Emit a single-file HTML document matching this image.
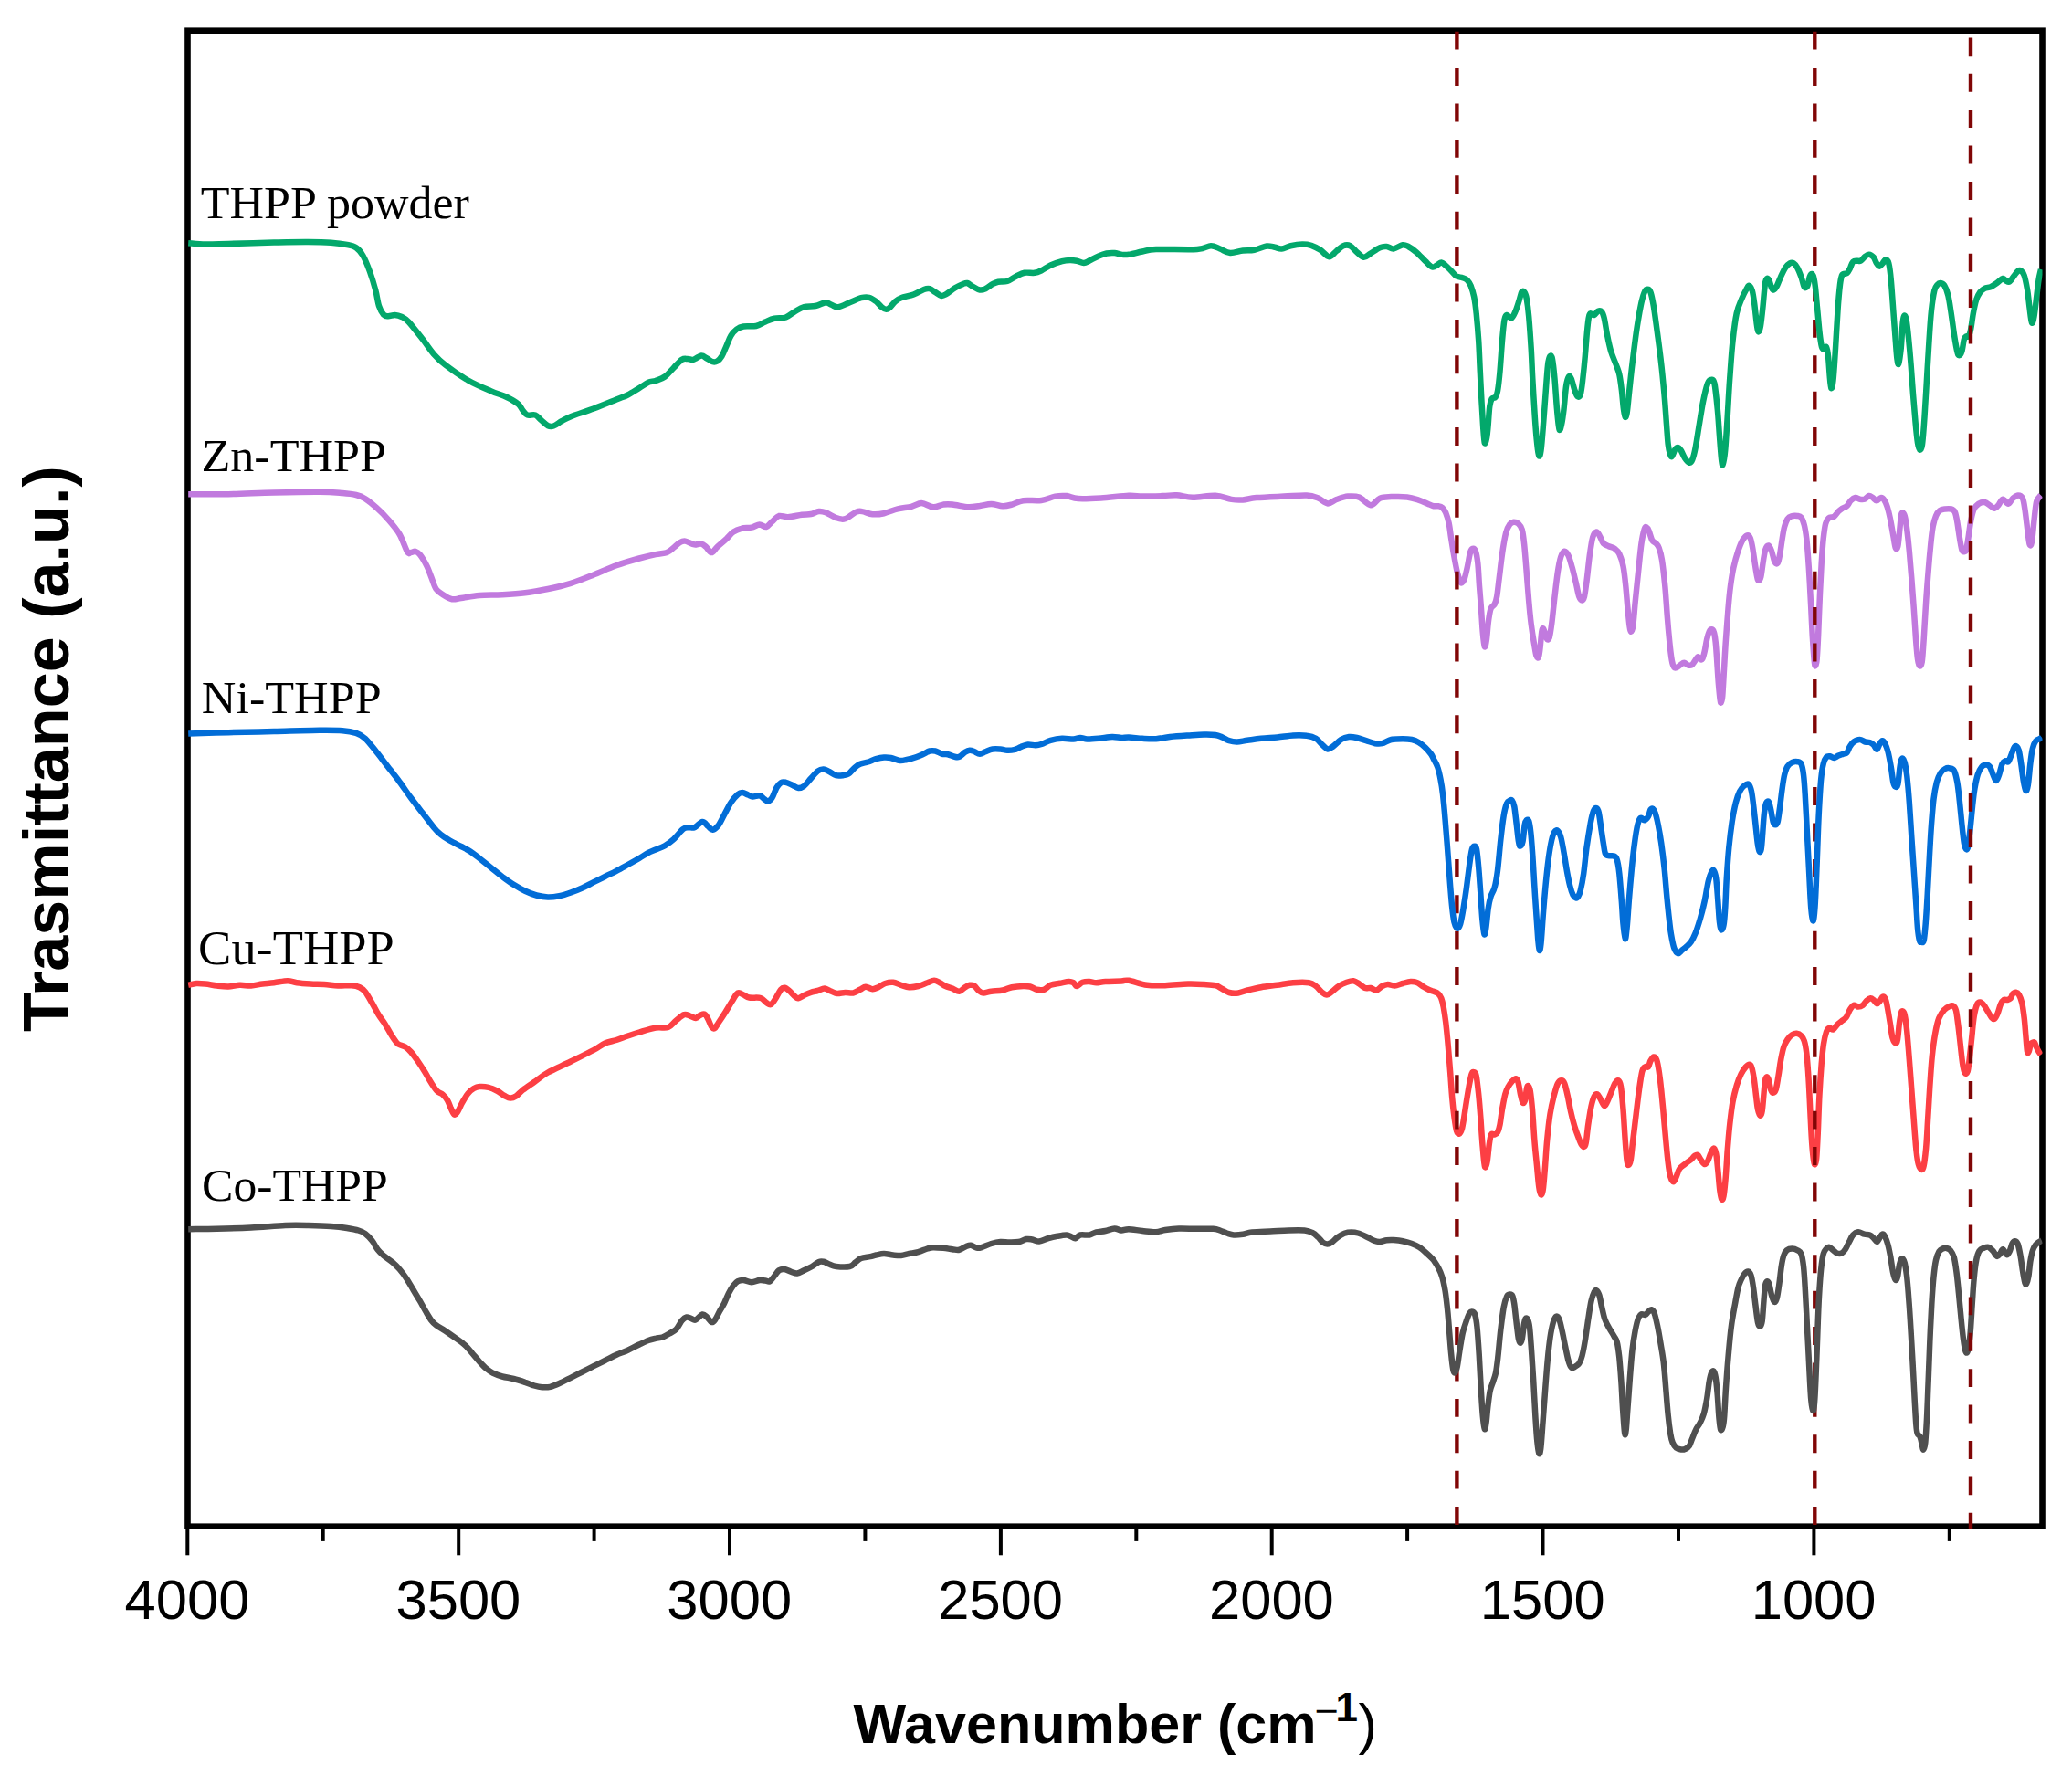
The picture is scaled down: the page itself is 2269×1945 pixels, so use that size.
<!DOCTYPE html>
<html><head><meta charset="utf-8"><title>FTIR spectra</title>
<style>
html,body{margin:0;padding:0;background:#fff;}
body{width:2269px;height:1945px;overflow:hidden;}
svg{display:block;}
.tick{font-family:"Liberation Sans",Arial,sans-serif;font-size:61.5px;fill:#000;text-anchor:middle;}
.lab{font-family:"Liberation Serif","Times New Roman",serif;fill:#000;}
.axl{font-family:"Liberation Sans",Arial,sans-serif;font-weight:bold;fill:#000;}
.curve{fill:none;stroke-width:6.5;stroke-linejoin:round;stroke-linecap:butt;}
.dash{fill:none;stroke:#800606;stroke-width:4.4;stroke-dasharray:19.9 19.5;}
</style></head><body>
<svg width="2269" height="1945" viewBox="0 0 2269 1945">
<rect x="0" y="0" width="2269" height="1945" fill="#ffffff"/>
<clipPath id="cp"><rect x="205.5" y="33.7" width="2031" height="1637.6"/></clipPath>
<rect x="205.5" y="33.7" width="2031" height="1638" fill="none" stroke="#000" stroke-width="6.6"/>
<g clip-path="url(#cp)">
<path class="curve" stroke="#FC3F44" d="M206.2 1078.8C207.7 1078.5 211.9 1077.2 215.0 1077.0C218.1 1076.8 221.2 1077.1 225.0 1077.5C228.8 1077.9 233.3 1079.0 237.5 1079.5C241.7 1080.0 245.8 1080.6 250.0 1080.5C254.2 1080.4 258.3 1079.0 262.5 1078.8C266.7 1078.6 270.8 1079.7 275.0 1079.5C279.2 1079.3 283.3 1078.0 287.5 1077.5C291.7 1077.0 295.4 1076.8 300.0 1076.2C304.6 1075.7 310.8 1074.2 315.0 1074.2C319.2 1074.2 320.8 1075.7 325.0 1076.2C329.2 1076.8 335.0 1077.2 340.0 1077.5C345.0 1077.8 350.0 1077.7 355.0 1078.0C360.0 1078.3 365.0 1079.3 370.0 1079.5C375.0 1079.7 381.0 1078.9 385.0 1079.2C389.0 1079.5 391.3 1080.0 393.8 1081.2C396.3 1082.4 397.7 1083.3 400.0 1086.2C402.3 1089.1 405.1 1094.4 407.5 1098.5C409.9 1102.6 412.1 1107.3 414.4 1111.0C416.6 1114.7 418.7 1116.9 421.0 1120.5C423.3 1124.1 426.0 1129.2 428.0 1132.5C430.0 1135.8 431.6 1138.2 433.0 1140.0C434.4 1141.8 434.4 1142.4 436.2 1143.5C438.0 1144.6 441.5 1145.1 443.8 1146.5C446.1 1147.9 447.7 1149.4 450.0 1152.0C452.3 1154.6 455.0 1158.4 457.5 1162.0C460.0 1165.6 462.5 1169.5 465.0 1173.5C467.5 1177.5 470.2 1182.6 472.5 1186.2C474.8 1189.8 476.7 1192.9 478.8 1195.0C480.9 1197.1 483.1 1197.1 485.0 1198.8C486.9 1200.5 488.5 1202.5 490.0 1205.0C491.5 1207.5 492.6 1211.2 493.8 1213.8C495.1 1216.4 496.3 1219.9 497.5 1220.5C498.7 1221.1 499.8 1219.7 501.2 1217.5C502.6 1215.3 504.3 1210.8 506.2 1207.5C508.1 1204.2 510.4 1200.1 512.5 1197.5C514.6 1194.9 516.7 1193.2 518.8 1192.0C520.9 1190.8 522.3 1190.2 525.0 1190.0C527.7 1189.8 531.7 1190.0 535.0 1190.8C538.3 1191.6 542.1 1193.5 545.0 1195.0C547.9 1196.5 550.2 1198.8 552.5 1200.0C554.8 1201.2 556.7 1202.4 558.8 1202.5C560.9 1202.6 562.7 1202.0 565.0 1200.5C567.3 1199.0 569.2 1196.4 572.5 1193.8C575.8 1191.2 580.4 1188.2 585.0 1185.0C589.6 1181.8 593.3 1178.2 600.0 1174.5C606.7 1170.8 616.7 1166.6 625.0 1162.5C633.3 1158.4 643.8 1153.3 650.0 1150.0C656.2 1146.7 658.3 1144.3 662.5 1142.5C666.7 1140.7 670.8 1140.3 675.0 1139.0C679.2 1137.7 683.3 1135.9 687.5 1134.5C691.7 1133.1 694.9 1132.0 700.0 1130.5C705.1 1129.0 712.7 1126.5 718.0 1125.6C723.3 1124.7 728.0 1126.3 731.8 1125.0C735.5 1123.7 737.6 1119.8 740.5 1117.5C743.4 1115.2 746.7 1112.0 749.2 1111.2C751.7 1110.4 753.4 1111.9 755.5 1112.5C757.6 1113.1 759.9 1115.1 761.8 1115.0C763.7 1114.9 765.1 1112.5 766.8 1111.8C768.5 1111.1 770.3 1110.1 771.8 1110.8C773.2 1111.5 774.3 1113.9 775.5 1116.2C776.7 1118.5 778.0 1122.8 779.2 1124.5C780.4 1126.2 781.2 1127.0 782.5 1126.2C783.8 1125.5 784.8 1122.9 786.8 1120.0C788.8 1117.1 791.7 1112.8 794.2 1108.8C796.7 1104.8 799.5 1099.8 801.8 1096.2C804.1 1092.7 805.9 1088.6 808.0 1087.5C810.1 1086.4 812.1 1088.7 814.2 1089.5C816.3 1090.3 817.4 1091.9 820.5 1092.5C823.6 1093.1 829.9 1092.1 833.0 1093.0C836.1 1093.9 837.3 1096.8 839.2 1098.0C841.1 1099.2 842.5 1100.7 844.2 1100.0C845.9 1099.3 847.4 1096.5 849.2 1093.8C851.0 1091.1 853.3 1085.8 855.0 1083.8C856.7 1081.8 857.7 1081.6 859.2 1081.8C860.7 1082.0 862.3 1083.4 864.2 1085.0C866.1 1086.6 868.8 1089.8 870.5 1091.2C872.2 1092.6 872.5 1093.4 874.2 1093.2C875.9 1093.0 878.2 1091.1 880.5 1090.0C882.8 1088.9 885.5 1087.6 888.0 1086.8C890.5 1086.0 893.0 1085.7 895.5 1085.0C898.0 1084.3 900.5 1082.4 903.0 1082.5C905.5 1082.6 908.2 1084.9 910.5 1085.8C912.8 1086.7 914.3 1087.8 916.8 1088.0C919.3 1088.2 922.6 1087.1 925.5 1087.0C928.4 1086.9 931.5 1088.0 934.2 1087.5C936.9 1087.0 939.5 1084.9 941.8 1083.8C944.1 1082.7 945.7 1080.9 948.0 1080.8C950.3 1080.7 953.2 1083.1 955.5 1083.2C957.8 1083.3 959.5 1082.2 961.8 1081.2C964.1 1080.2 966.5 1077.9 969.2 1077.0C971.9 1076.1 975.1 1075.5 978.0 1075.8C980.9 1076.1 983.9 1077.9 986.8 1078.8C989.7 1079.7 992.4 1081.0 995.5 1081.2C998.6 1081.4 1002.2 1080.8 1005.5 1080.0C1008.8 1079.2 1012.6 1077.2 1015.5 1076.2C1018.4 1075.2 1020.7 1073.8 1023.0 1073.8C1025.3 1073.8 1027.1 1075.2 1029.2 1076.2C1031.3 1077.2 1033.2 1079.0 1035.5 1080.0C1037.8 1081.0 1040.5 1081.5 1043.0 1082.5C1045.5 1083.5 1048.2 1086.0 1050.5 1085.8C1052.8 1085.6 1054.9 1082.4 1056.8 1081.2C1058.7 1080.0 1060.1 1079.1 1061.8 1078.8C1063.5 1078.5 1065.1 1078.5 1066.8 1079.5C1068.5 1080.5 1070.1 1083.7 1071.8 1085.0C1073.5 1086.3 1074.5 1087.4 1076.8 1087.5C1079.1 1087.6 1082.0 1086.3 1085.5 1085.8C1089.0 1085.3 1094.2 1085.3 1098.0 1084.5C1101.8 1083.7 1104.2 1082.0 1108.0 1081.2C1111.8 1080.5 1117.2 1080.1 1120.5 1080.0C1123.8 1079.9 1125.5 1079.9 1128.0 1080.5C1130.5 1081.1 1133.0 1083.2 1135.5 1083.8C1138.0 1084.3 1140.5 1084.6 1143.0 1083.8C1145.5 1083.0 1147.6 1080.0 1150.5 1078.8C1153.4 1077.6 1157.2 1077.4 1160.5 1076.8C1163.8 1076.2 1168.0 1075.1 1170.5 1075.0C1173.0 1074.9 1174.0 1075.4 1175.5 1076.2C1177.0 1077.0 1177.5 1080.1 1179.2 1080.0C1180.9 1079.9 1183.2 1076.6 1185.5 1075.8C1187.8 1075.0 1190.5 1074.9 1193.0 1075.0C1195.5 1075.1 1197.6 1076.2 1200.5 1076.2C1203.4 1076.2 1205.9 1075.3 1210.5 1075.0C1215.1 1074.7 1223.8 1074.7 1228.0 1074.5C1232.2 1074.3 1231.3 1073.1 1236.0 1073.8C1240.7 1074.5 1249.3 1077.9 1256.0 1078.8C1262.7 1079.7 1268.5 1079.4 1276.0 1079.2C1283.5 1079.0 1293.9 1077.7 1301.0 1077.5C1308.1 1077.3 1313.5 1077.7 1318.5 1078.0C1323.5 1078.3 1327.7 1078.4 1331.0 1079.2C1334.3 1080.0 1336.0 1081.7 1338.5 1083.0C1341.0 1084.3 1343.1 1086.2 1346.0 1087.0C1348.9 1087.8 1352.7 1087.9 1356.0 1087.5C1359.3 1087.1 1361.8 1085.5 1366.0 1084.5C1370.2 1083.5 1375.6 1082.2 1381.0 1081.2C1386.4 1080.2 1392.7 1079.6 1398.5 1078.8C1404.3 1078.0 1410.2 1076.6 1416.0 1076.2C1421.8 1075.8 1429.3 1075.6 1433.5 1076.2C1437.7 1076.8 1438.7 1078.3 1441.0 1080.0C1443.3 1081.7 1445.2 1084.6 1447.2 1086.2C1449.2 1087.8 1451.1 1089.5 1453.0 1089.5C1454.9 1089.5 1456.3 1087.8 1458.5 1086.2C1460.7 1084.6 1463.3 1081.7 1466.0 1080.0C1468.7 1078.3 1472.1 1076.8 1474.8 1075.8C1477.5 1074.8 1479.9 1073.9 1482.2 1074.2C1484.5 1074.5 1486.4 1076.2 1488.5 1077.5C1490.6 1078.8 1492.7 1081.2 1494.8 1082.0C1496.9 1082.8 1498.9 1081.6 1501.0 1082.0C1503.1 1082.4 1505.1 1084.8 1507.2 1084.5C1509.3 1084.2 1511.4 1081.1 1513.5 1080.0C1515.6 1078.9 1517.5 1078.1 1519.8 1078.0C1522.1 1077.9 1524.5 1079.7 1527.2 1079.5C1529.9 1079.3 1533.1 1077.8 1536.0 1077.0C1538.9 1076.2 1542.1 1075.1 1544.8 1075.0C1547.5 1074.9 1549.9 1075.3 1552.2 1076.2C1554.5 1077.1 1556.2 1079.1 1558.5 1080.5C1560.8 1081.9 1564.1 1083.6 1566.0 1084.5C1567.9 1085.4 1568.5 1085.2 1570.0 1085.8C1571.5 1086.4 1573.6 1087.0 1575.0 1088.3C1576.4 1089.5 1577.3 1090.8 1578.3 1093.3C1579.3 1095.8 1580.0 1098.8 1580.8 1103.3C1581.6 1107.8 1582.5 1113.9 1583.3 1120.0C1584.0 1126.1 1584.7 1133.3 1585.3 1140.0C1585.9 1146.7 1586.4 1153.0 1587.0 1160.0C1587.6 1167.0 1588.2 1174.5 1588.7 1181.7C1589.2 1188.9 1589.7 1196.4 1590.3 1203.3C1590.9 1210.2 1591.7 1217.5 1592.5 1223.3C1593.3 1229.1 1594.1 1235.2 1595.0 1238.3C1595.9 1241.4 1597.0 1242.0 1598.0 1241.7C1599.0 1241.4 1599.9 1239.8 1600.8 1236.7C1601.7 1233.6 1602.5 1228.3 1603.3 1223.3C1604.1 1218.3 1604.8 1212.8 1605.8 1206.7C1606.8 1200.6 1608.2 1191.9 1609.2 1186.7C1610.2 1181.5 1610.9 1177.9 1611.7 1175.8C1612.5 1173.7 1613.4 1173.8 1614.2 1174.2C1615.0 1174.6 1615.9 1174.3 1616.7 1178.3C1617.5 1182.3 1618.4 1190.8 1619.2 1198.3C1620.0 1205.8 1620.6 1214.4 1621.3 1223.3C1622.0 1232.2 1622.6 1243.4 1623.3 1251.7C1624.0 1260.0 1624.7 1268.9 1625.3 1273.3C1625.9 1277.7 1626.1 1278.6 1626.7 1278.3C1627.3 1278.0 1628.0 1275.9 1628.7 1271.7C1629.4 1267.5 1630.1 1258.2 1630.8 1253.3C1631.5 1248.4 1632.0 1244.3 1633.0 1242.5C1634.0 1240.7 1635.5 1242.9 1636.7 1242.5C1637.9 1242.1 1639.0 1241.8 1640.0 1240.0C1641.0 1238.2 1641.7 1235.9 1642.5 1231.7C1643.3 1227.5 1644.0 1220.6 1645.0 1215.0C1646.0 1209.4 1647.2 1202.5 1648.3 1198.3C1649.4 1194.1 1650.5 1192.3 1651.7 1190.0C1653.0 1187.7 1654.4 1185.7 1655.8 1184.2C1657.2 1182.8 1658.9 1181.2 1660.0 1181.3C1661.1 1181.4 1661.7 1182.2 1662.5 1185.0C1663.3 1187.8 1664.2 1194.5 1665.0 1198.3C1665.8 1202.0 1666.7 1206.4 1667.5 1207.5C1668.3 1208.6 1669.2 1207.6 1670.0 1205.0C1670.8 1202.4 1671.4 1194.3 1672.0 1191.7C1672.6 1189.1 1673.1 1188.7 1673.7 1189.2C1674.3 1189.8 1675.1 1190.7 1675.8 1195.0C1676.5 1199.3 1677.2 1206.1 1678.0 1215.0C1678.8 1223.9 1679.5 1238.0 1680.3 1248.3C1681.1 1258.6 1682.2 1268.1 1683.0 1276.7C1683.8 1285.3 1684.5 1294.7 1685.3 1300.0C1686.0 1305.3 1686.8 1307.8 1687.5 1308.3C1688.2 1308.8 1689.0 1307.7 1689.7 1303.3C1690.4 1298.9 1691.0 1290.9 1691.7 1281.7C1692.5 1272.5 1693.2 1258.6 1694.2 1248.3C1695.2 1238.0 1696.2 1228.0 1697.5 1220.0C1698.8 1212.0 1700.3 1205.5 1701.7 1200.0C1703.1 1194.5 1704.4 1189.5 1705.8 1186.7C1707.2 1183.9 1708.8 1183.3 1710.0 1183.3C1711.2 1183.3 1712.2 1183.9 1713.3 1186.7C1714.4 1189.5 1715.6 1195.0 1716.7 1200.0C1717.8 1205.0 1718.8 1211.2 1720.0 1216.7C1721.2 1222.2 1722.8 1228.6 1724.2 1233.3C1725.6 1238.0 1727.0 1241.7 1728.3 1245.0C1729.5 1248.3 1730.6 1251.5 1731.7 1253.3C1732.8 1255.1 1733.9 1256.1 1734.7 1255.8C1735.5 1255.5 1736.0 1255.7 1736.7 1251.7C1737.5 1247.7 1738.2 1238.4 1739.2 1231.7C1740.2 1225.0 1741.4 1216.9 1742.5 1211.7C1743.6 1206.5 1744.7 1203.0 1745.8 1200.8C1746.9 1198.6 1748.1 1197.9 1749.2 1198.3C1750.3 1198.7 1751.2 1201.2 1752.5 1203.3C1753.8 1205.4 1755.5 1210.2 1756.7 1210.8C1758.0 1211.4 1758.8 1209.0 1760.0 1206.7C1761.2 1204.4 1762.8 1200.0 1764.2 1196.7C1765.6 1193.4 1767.0 1188.9 1768.3 1186.7C1769.6 1184.5 1771.1 1182.8 1772.2 1183.3C1773.3 1183.8 1774.1 1184.7 1775.0 1190.0C1775.9 1195.3 1776.7 1205.3 1777.5 1215.0C1778.3 1224.7 1779.0 1238.8 1779.7 1248.3C1780.4 1257.8 1781.0 1267.1 1781.7 1271.7C1782.4 1276.3 1783.0 1276.1 1783.7 1275.8C1784.4 1275.5 1785.0 1274.6 1785.8 1270.0C1786.6 1265.4 1787.3 1256.6 1788.3 1248.3C1789.3 1240.0 1790.6 1229.2 1791.7 1220.0C1792.8 1210.8 1793.9 1201.1 1795.0 1193.3C1796.1 1185.5 1797.2 1177.5 1798.3 1173.3C1799.4 1169.1 1800.6 1169.1 1801.7 1168.3C1802.8 1167.5 1804.0 1169.4 1805.0 1168.3C1806.0 1167.2 1806.5 1163.5 1807.5 1161.7C1808.5 1159.9 1809.7 1157.7 1810.8 1157.5C1811.9 1157.3 1813.2 1158.2 1814.2 1160.8C1815.2 1163.4 1815.9 1167.9 1816.7 1173.3C1817.5 1178.7 1818.4 1185.5 1819.2 1193.3C1820.0 1201.1 1820.9 1210.8 1821.7 1220.0C1822.5 1229.2 1823.4 1239.4 1824.2 1248.3C1825.0 1257.2 1825.9 1266.6 1826.7 1273.3C1827.5 1280.0 1828.2 1284.8 1829.2 1288.3C1830.2 1291.8 1831.4 1294.2 1832.5 1294.2C1833.6 1294.2 1834.7 1290.7 1835.8 1288.3C1836.9 1285.9 1837.7 1282.2 1839.2 1280.0C1840.7 1277.8 1842.9 1276.7 1845.0 1275.0C1847.1 1273.3 1849.9 1271.5 1851.7 1270.0C1853.5 1268.5 1854.5 1266.6 1855.8 1265.8C1857.0 1265.0 1858.1 1264.3 1859.2 1265.0C1860.3 1265.7 1861.2 1268.3 1862.5 1270.0C1863.8 1271.7 1865.5 1274.7 1866.7 1275.0C1868.0 1275.3 1868.9 1273.7 1870.0 1271.7C1871.1 1269.8 1872.2 1265.7 1873.3 1263.3C1874.4 1260.9 1875.7 1257.5 1876.7 1257.5C1877.7 1257.5 1878.4 1259.3 1879.2 1263.3C1880.0 1267.3 1880.6 1275.0 1881.3 1281.7C1882.0 1288.4 1882.6 1298.0 1883.3 1303.3C1884.0 1308.6 1884.6 1312.2 1885.3 1313.3C1886.0 1314.4 1886.8 1313.9 1887.5 1310.0C1888.2 1306.1 1889.0 1298.3 1889.7 1290.0C1890.4 1281.7 1891.0 1269.7 1891.7 1260.0C1892.5 1250.3 1893.2 1240.6 1894.2 1231.7C1895.2 1222.8 1896.2 1213.8 1897.5 1206.7C1898.8 1199.6 1900.2 1194.1 1901.7 1189.0C1903.2 1183.9 1905.0 1179.4 1906.7 1176.0C1908.4 1172.6 1910.2 1170.2 1911.7 1168.5C1913.2 1166.8 1914.7 1165.7 1915.8 1165.8C1916.9 1165.9 1917.5 1166.5 1918.3 1169.2C1919.1 1171.9 1920.0 1176.6 1920.8 1181.7C1921.6 1186.8 1922.3 1194.5 1923.0 1200.0C1923.7 1205.5 1924.2 1211.4 1925.0 1215.0C1925.8 1218.6 1926.7 1221.4 1927.5 1221.7C1928.3 1222.0 1929.1 1220.3 1929.7 1216.7C1930.3 1213.1 1930.8 1205.6 1931.3 1200.0C1931.8 1194.4 1932.4 1186.8 1933.0 1183.3C1933.6 1179.8 1934.3 1179.2 1935.0 1179.2C1935.7 1179.2 1936.3 1181.0 1937.0 1183.3C1937.7 1185.6 1938.4 1191.1 1939.2 1193.3C1940.0 1195.5 1940.8 1196.7 1941.7 1196.7C1942.6 1196.7 1943.7 1196.4 1944.7 1193.3C1945.7 1190.2 1946.6 1183.6 1947.5 1178.3C1948.4 1173.0 1949.0 1167.0 1950.0 1161.7C1951.0 1156.4 1952.0 1150.6 1953.3 1146.7C1954.5 1142.8 1956.0 1140.5 1957.5 1138.3C1959.0 1136.1 1960.8 1134.4 1962.5 1133.3C1964.2 1132.2 1965.8 1131.5 1967.5 1131.7C1969.2 1131.9 1971.1 1132.8 1972.5 1134.2C1973.9 1135.6 1974.8 1136.8 1975.8 1140.0C1976.8 1143.2 1977.6 1147.8 1978.3 1153.3C1979.0 1158.8 1979.4 1165.0 1980.0 1173.3C1980.6 1181.6 1981.2 1192.7 1981.7 1203.3C1982.2 1213.9 1982.8 1227.0 1983.3 1236.7C1983.8 1246.4 1984.4 1255.3 1985.0 1261.7C1985.6 1268.1 1986.3 1273.9 1987.0 1275.0C1987.7 1276.1 1988.6 1274.1 1989.2 1268.3C1989.8 1262.5 1990.2 1251.7 1990.8 1240.0C1991.3 1228.3 1991.8 1210.8 1992.5 1198.3C1993.2 1185.8 1994.0 1174.2 1994.7 1165.0C1995.5 1155.8 1996.1 1149.1 1997.0 1143.3C1997.9 1137.5 1999.0 1132.9 2000.0 1130.0C2001.0 1127.1 2002.0 1126.2 2003.3 1125.8C2004.5 1125.4 2006.1 1128.0 2007.5 1127.5C2008.9 1127.0 2010.2 1124.0 2011.7 1122.5C2013.2 1121.0 2015.0 1119.7 2016.7 1118.3C2018.4 1116.9 2020.2 1116.3 2021.7 1114.2C2023.2 1112.1 2024.4 1108.0 2025.8 1105.8C2027.2 1103.6 2028.5 1101.3 2030.0 1100.8C2031.5 1100.2 2033.3 1102.5 2035.0 1102.5C2036.7 1102.5 2038.5 1101.9 2040.0 1100.8C2041.5 1099.7 2042.8 1097.0 2044.2 1095.8C2045.6 1094.5 2047.1 1093.4 2048.3 1093.3C2049.6 1093.2 2050.5 1094.0 2051.7 1095.0C2052.9 1096.0 2054.2 1098.9 2055.3 1099.2C2056.4 1099.5 2057.2 1098.0 2058.3 1096.7C2059.4 1095.5 2060.6 1092.0 2061.7 1091.7C2062.8 1091.4 2064.0 1092.5 2065.0 1095.0C2066.0 1097.5 2066.7 1102.2 2067.5 1106.7C2068.3 1111.2 2069.2 1116.7 2070.0 1121.7C2070.8 1126.7 2071.5 1133.2 2072.5 1136.7C2073.5 1140.2 2074.9 1142.2 2075.8 1142.5C2076.7 1142.8 2077.3 1142.0 2078.0 1138.3C2078.7 1134.5 2079.3 1124.8 2080.0 1120.0C2080.7 1115.2 2081.4 1111.3 2082.0 1109.2C2082.6 1107.1 2083.1 1107.1 2083.7 1107.5C2084.3 1107.9 2085.0 1108.0 2085.8 1111.7C2086.6 1115.5 2087.5 1122.0 2088.3 1130.0C2089.1 1138.0 2090.0 1149.5 2090.8 1160.0C2091.6 1170.5 2092.5 1182.2 2093.3 1193.3C2094.1 1204.4 2095.0 1215.9 2095.8 1226.7C2096.6 1237.5 2097.5 1250.2 2098.3 1258.3C2099.1 1266.3 2099.8 1271.2 2100.8 1275.0C2101.8 1278.8 2103.2 1280.5 2104.2 1280.8C2105.2 1281.1 2105.9 1280.7 2106.7 1276.7C2107.5 1272.7 2108.4 1265.6 2109.2 1256.7C2110.0 1247.8 2110.6 1234.4 2111.3 1223.3C2112.0 1212.2 2112.6 1201.1 2113.3 1190.0C2114.1 1178.9 2114.8 1166.4 2115.8 1156.7C2116.8 1147.0 2117.9 1138.7 2119.2 1131.7C2120.4 1124.8 2121.6 1119.3 2123.3 1115.0C2125.0 1110.7 2127.2 1108.0 2129.2 1105.8C2131.1 1103.6 2133.3 1102.7 2135.0 1102.0C2136.7 1101.3 2138.0 1100.9 2139.2 1101.7C2140.4 1102.5 2141.2 1103.4 2142.0 1106.7C2142.8 1110.0 2143.4 1115.6 2144.2 1121.7C2145.0 1127.8 2145.9 1136.1 2146.7 1143.3C2147.5 1150.5 2148.4 1159.7 2149.2 1165.0C2150.0 1170.3 2150.8 1173.6 2151.7 1175.0C2152.6 1176.4 2153.9 1175.8 2154.7 1173.3C2155.5 1170.8 2155.9 1166.1 2156.7 1160.0C2157.4 1153.9 2158.4 1144.5 2159.2 1136.7C2160.0 1128.9 2160.7 1119.4 2161.7 1113.3C2162.7 1107.2 2163.9 1102.6 2165.0 1100.0C2166.1 1097.4 2167.1 1097.4 2168.3 1097.5C2169.6 1097.6 2171.1 1099.1 2172.5 1100.8C2173.9 1102.5 2175.3 1105.3 2176.7 1107.5C2178.1 1109.7 2179.6 1112.8 2180.8 1114.2C2182.1 1115.6 2183.1 1116.5 2184.2 1115.8C2185.3 1115.1 2186.4 1112.6 2187.5 1110.0C2188.6 1107.4 2189.7 1102.5 2190.8 1100.0C2191.9 1097.5 2192.9 1095.8 2194.2 1095.0C2195.4 1094.2 2197.1 1095.3 2198.3 1095.0C2199.6 1094.7 2200.7 1094.4 2201.7 1093.3C2202.7 1092.2 2203.2 1089.4 2204.2 1088.3C2205.2 1087.2 2206.4 1086.5 2207.5 1086.7C2208.6 1086.9 2209.7 1087.3 2210.8 1089.2C2211.9 1091.1 2213.2 1094.0 2214.2 1098.3C2215.2 1102.6 2216.0 1109.2 2216.7 1115.0C2217.4 1120.8 2217.8 1127.2 2218.3 1133.3C2218.9 1139.4 2219.4 1148.8 2220.0 1151.7C2220.6 1154.6 2221.4 1152.2 2222.0 1150.8C2222.6 1149.4 2223.1 1144.8 2223.7 1143.3C2224.3 1141.8 2225.1 1142.0 2225.8 1141.7C2226.5 1141.4 2227.3 1140.9 2228.0 1141.7C2228.7 1142.5 2229.2 1145.0 2230.0 1146.7C2230.8 1148.4 2231.7 1150.3 2232.5 1151.7C2233.3 1153.1 2234.6 1154.5 2235.0 1155.0"/>
<path class="curve" stroke="#C17ADE" d="M206.2 541.2C213.5 541.2 234.4 541.5 250.0 541.2C265.6 540.9 283.3 539.9 300.0 539.5C316.7 539.1 337.5 538.7 350.0 538.8C362.5 538.9 368.3 539.5 375.0 540.0C381.7 540.5 385.8 541.0 390.0 542.0C394.2 543.0 396.2 543.8 400.0 546.2C403.8 548.6 408.3 552.4 412.5 556.2C416.7 560.0 420.8 564.0 425.0 568.8C429.2 573.6 434.0 579.0 437.5 585.0C441.0 591.0 444.1 601.2 446.2 604.5C448.3 607.8 448.5 605.1 450.0 605.0C451.5 604.9 453.3 603.4 455.0 603.8C456.7 604.2 457.9 604.8 460.0 607.5C462.1 610.2 465.4 615.8 467.5 620.0C469.6 624.2 470.8 628.3 472.5 632.5C474.2 636.7 475.4 641.9 477.5 645.0C479.6 648.1 482.1 649.3 485.0 651.2C487.9 653.1 491.7 655.6 495.0 656.2C498.3 656.8 500.0 655.7 505.0 655.0C510.0 654.3 517.5 652.6 525.0 652.0C532.5 651.4 541.7 651.7 550.0 651.2C558.3 650.7 566.7 650.2 575.0 649.2C583.3 648.2 591.7 646.7 600.0 645.0C608.3 643.3 616.7 641.4 625.0 638.8C633.3 636.2 641.7 632.7 650.0 629.4C658.3 626.1 666.7 622.1 675.0 619.2C683.3 616.2 692.8 613.5 700.0 611.5C707.2 609.5 712.9 608.2 718.0 607.1C723.1 606.0 727.2 606.2 730.5 604.9C733.8 603.7 735.7 601.3 738.0 599.5C740.3 597.8 742.1 595.4 744.2 594.3C746.3 593.1 747.8 592.2 750.5 592.6C753.2 593.0 757.6 595.9 760.5 596.4C763.4 596.9 765.9 595.2 768.0 595.6C770.1 596.0 771.1 597.2 773.0 598.8C774.9 600.4 777.1 605.1 779.2 605.1C781.3 605.1 782.8 601.3 785.5 598.8C788.2 596.3 792.6 592.8 795.5 590.1C798.4 587.4 800.3 584.5 803.0 582.6C805.7 580.7 808.5 579.6 811.8 578.8C815.1 577.9 819.7 578.3 823.0 577.6C826.3 576.9 829.1 574.6 831.8 574.5C834.5 574.5 836.9 577.6 839.2 577.0C841.5 576.5 843.2 573.3 845.5 571.3C847.8 569.3 850.1 565.9 853.0 565.0C855.9 564.2 858.8 566.5 863.0 566.3C867.2 566.1 873.8 564.3 878.0 563.7C882.2 563.2 884.9 563.6 888.0 563.0C891.1 562.4 894.1 560.3 896.8 560.0C899.5 559.7 901.1 560.1 904.2 561.3C907.3 562.5 912.2 565.9 915.5 567.1C918.8 568.4 921.7 568.9 924.2 568.6C926.7 568.3 928.2 566.7 930.5 565.4C932.8 564.0 935.7 561.4 938.0 560.5C940.3 559.6 941.3 559.6 944.2 560.1C947.1 560.5 951.5 562.9 955.5 563.2C959.5 563.6 963.4 563.2 968.0 562.2C972.6 561.2 978.0 558.6 983.0 557.4C988.0 556.2 993.6 555.9 998.0 554.8C1002.4 553.8 1005.2 551.0 1009.2 551.1C1013.2 551.2 1017.8 555.0 1021.8 555.3C1025.8 555.6 1029.5 553.1 1033.0 552.6C1036.5 552.2 1038.4 552.1 1043.0 552.6C1047.6 553.0 1055.5 555.0 1060.5 555.3C1065.5 555.5 1068.8 554.5 1073.0 554.0C1077.2 553.4 1081.3 551.9 1085.5 551.9C1089.7 551.9 1094.2 554.1 1098.0 554.2C1101.8 554.3 1104.2 553.6 1108.0 552.6C1111.8 551.6 1115.1 549.0 1120.5 548.2C1125.9 547.5 1134.7 548.7 1140.5 548.0C1146.3 547.2 1150.9 544.5 1155.5 543.6C1160.1 542.8 1163.8 542.7 1168.0 543.1C1172.2 543.6 1174.2 545.7 1180.5 546.1C1186.8 546.4 1196.2 546.0 1205.5 545.4C1214.8 544.9 1228.4 543.0 1236.0 542.7C1243.6 542.4 1244.8 543.5 1251.0 543.6C1257.2 543.6 1267.2 543.3 1273.5 543.1C1279.8 542.9 1283.1 542.0 1288.5 542.3C1293.9 542.5 1298.9 544.6 1306.0 544.7C1313.1 544.8 1323.9 542.4 1331.0 542.7C1338.1 543.1 1343.5 546.2 1348.5 546.9C1353.5 547.7 1356.4 547.8 1361.0 547.4C1365.6 547.1 1368.5 545.7 1376.0 545.1C1383.5 544.4 1396.8 544.0 1406.0 543.6C1415.2 543.2 1424.8 542.2 1431.0 542.5C1437.2 542.8 1439.7 544.1 1443.5 545.6C1447.3 547.1 1450.7 551.2 1454.0 551.4C1457.3 551.6 1459.8 548.3 1463.5 547.0C1467.2 545.8 1471.8 544.0 1476.0 543.6C1480.2 543.2 1484.3 543.0 1488.5 544.6C1492.7 546.2 1497.2 553.0 1501.0 553.2C1504.8 553.4 1507.2 547.2 1511.0 545.7C1514.8 544.2 1518.5 544.4 1523.5 544.1C1528.5 543.9 1536.0 543.8 1541.0 544.4C1546.0 545.0 1549.8 546.4 1553.5 547.6C1557.2 548.8 1560.8 550.6 1563.5 551.7C1566.2 552.8 1568.1 553.8 1570.0 554.2C1571.9 554.6 1573.5 553.9 1575.0 554.2C1576.5 554.5 1577.8 554.5 1579.2 555.8C1580.6 557.0 1582.0 558.8 1583.3 561.7C1584.5 564.6 1585.7 568.6 1586.7 573.3C1587.7 578.0 1588.2 583.9 1589.2 590.0C1590.2 596.1 1591.4 603.9 1592.5 610.0C1593.6 616.1 1594.7 622.2 1595.8 626.7C1596.9 631.2 1598.4 634.8 1599.2 636.7C1600.0 638.6 1600.1 638.6 1600.8 638.3C1601.5 638.0 1602.3 637.8 1603.3 635.0C1604.3 632.2 1605.6 626.7 1606.7 621.7C1607.8 616.7 1609.0 608.5 1610.0 605.0C1611.0 601.5 1611.5 601.1 1612.5 600.8C1613.5 600.5 1614.8 600.6 1615.8 603.3C1616.8 605.9 1617.6 610.3 1618.3 616.7C1619.0 623.1 1619.4 633.4 1620.0 641.7C1620.6 650.0 1621.4 658.4 1622.0 666.7C1622.6 675.0 1623.1 684.8 1623.7 691.7C1624.3 698.6 1625.1 706.9 1625.8 708.3C1626.5 709.7 1627.3 704.7 1628.0 700.0C1628.7 695.3 1629.2 685.5 1630.0 680.0C1630.8 674.5 1631.4 669.8 1632.5 666.7C1633.6 663.7 1635.6 663.9 1636.7 661.7C1637.8 659.5 1638.4 658.0 1639.2 653.3C1640.0 648.6 1640.7 641.1 1641.7 633.3C1642.7 625.5 1643.8 615.0 1645.0 606.7C1646.2 598.4 1647.8 588.7 1649.2 583.3C1650.6 577.9 1651.9 576.1 1653.3 574.2C1654.7 572.3 1656.0 571.9 1657.5 571.7C1659.0 571.6 1661.0 571.9 1662.5 573.3C1664.0 574.7 1665.6 576.1 1666.7 580.0C1667.8 583.9 1668.4 588.9 1669.2 596.7C1670.0 604.5 1670.9 616.4 1671.7 626.7C1672.5 637.0 1673.4 648.9 1674.2 658.3C1675.0 667.7 1675.7 675.5 1676.7 683.3C1677.7 691.1 1679.0 699.2 1680.0 705.0C1681.0 710.8 1681.7 715.9 1682.5 718.3C1683.3 720.7 1684.3 720.9 1685.0 719.2C1685.7 717.5 1686.2 712.9 1686.7 708.3C1687.2 703.7 1687.8 695.0 1688.3 691.7C1688.8 688.4 1689.3 687.8 1690.0 688.3C1690.7 688.8 1691.8 693.0 1692.5 695.0C1693.2 697.0 1693.5 699.5 1694.2 700.0C1694.9 700.5 1695.9 701.1 1696.7 698.3C1697.5 695.5 1698.2 690.8 1699.2 683.3C1700.2 675.8 1701.4 662.7 1702.5 653.3C1703.6 643.9 1704.7 633.9 1705.8 626.7C1706.9 619.5 1708.0 613.8 1709.2 610.0C1710.5 606.2 1711.9 604.0 1713.3 603.7C1714.7 603.4 1716.1 605.3 1717.5 608.3C1718.9 611.3 1720.3 616.7 1721.7 621.7C1723.1 626.7 1724.5 633.0 1725.8 638.3C1727.0 643.6 1728.1 650.1 1729.2 653.3C1730.3 656.5 1731.5 657.5 1732.5 657.5C1733.5 657.5 1734.2 656.8 1735.0 653.3C1735.8 649.8 1736.5 644.2 1737.5 636.7C1738.5 629.2 1739.7 616.4 1740.8 608.3C1741.9 600.2 1743.0 592.6 1744.2 588.3C1745.5 584.0 1747.0 582.8 1748.3 582.5C1749.5 582.2 1750.5 584.6 1751.7 586.7C1753.0 588.8 1754.1 593.1 1755.8 595.0C1757.5 596.9 1759.6 597.3 1761.7 598.3C1763.8 599.3 1766.4 599.4 1768.3 600.8C1770.2 602.2 1771.8 603.5 1773.3 606.7C1774.8 609.9 1776.3 614.2 1777.5 620.0C1778.7 625.8 1779.5 633.9 1780.3 641.7C1781.1 649.5 1781.8 659.8 1782.5 666.7C1783.2 673.6 1783.7 679.1 1784.2 683.3C1784.8 687.5 1785.1 691.4 1785.8 691.7C1786.5 692.0 1787.5 690.6 1788.3 685.0C1789.1 679.4 1789.8 668.3 1790.8 658.3C1791.8 648.3 1793.1 635.5 1794.2 625.0C1795.3 614.5 1796.4 602.6 1797.5 595.0C1798.6 587.4 1799.9 582.1 1800.8 579.2C1801.7 576.3 1802.2 577.1 1803.0 577.5C1803.8 577.9 1804.8 579.3 1805.8 581.7C1806.8 584.1 1808.0 589.5 1809.2 591.7C1810.5 593.9 1812.0 593.6 1813.3 595.0C1814.5 596.4 1815.6 597.0 1816.7 600.0C1817.8 603.0 1818.9 606.3 1820.0 613.3C1821.1 620.2 1822.3 631.4 1823.3 641.7C1824.3 652.0 1825.0 664.7 1825.8 675.0C1826.6 685.3 1827.5 695.2 1828.3 703.3C1829.1 711.3 1830.0 718.7 1830.8 723.3C1831.6 727.9 1832.3 729.5 1833.3 730.8C1834.3 732.0 1835.6 731.2 1836.7 730.8C1837.8 730.4 1838.8 729.1 1840.0 728.3C1841.2 727.5 1842.8 725.8 1844.2 725.8C1845.6 725.8 1846.9 727.9 1848.3 728.3C1849.7 728.7 1851.2 729.0 1852.5 728.3C1853.8 727.6 1854.7 725.7 1855.8 724.2C1856.9 722.7 1858.2 719.6 1859.2 719.2C1860.2 718.8 1860.9 721.3 1861.7 721.7C1862.5 722.1 1863.4 723.1 1864.2 721.7C1865.0 720.3 1865.9 716.9 1866.7 713.3C1867.5 709.7 1868.4 703.6 1869.2 700.0C1870.0 696.4 1870.9 693.5 1871.7 691.7C1872.5 689.9 1873.4 689.2 1874.2 689.2C1875.0 689.2 1876.0 689.4 1876.7 691.7C1877.5 694.1 1878.1 697.8 1878.7 703.3C1879.3 708.8 1879.8 717.2 1880.3 725.0C1880.8 732.8 1881.4 743.0 1882.0 750.0C1882.6 757.0 1883.2 763.5 1883.7 766.7C1884.2 769.9 1884.3 770.0 1884.7 769.2C1885.1 768.4 1885.8 767.7 1886.3 761.7C1886.8 755.7 1887.4 743.6 1888.0 733.3C1888.6 723.0 1889.2 711.1 1890.0 700.0C1890.8 688.9 1891.7 676.4 1892.5 666.7C1893.3 657.0 1894.0 649.2 1895.0 641.7C1896.0 634.2 1896.9 628.1 1898.3 621.7C1899.7 615.3 1901.6 608.5 1903.3 603.5C1905.0 598.5 1906.6 594.4 1908.3 591.5C1910.0 588.6 1911.9 586.7 1913.3 586.3C1914.7 585.9 1915.7 586.9 1916.7 589.2C1917.7 591.5 1918.4 595.4 1919.2 600.0C1920.0 604.6 1920.9 611.4 1921.7 616.7C1922.5 622.0 1923.5 628.5 1924.2 631.7C1924.9 634.9 1925.1 635.8 1925.8 635.8C1926.5 635.8 1927.5 635.2 1928.3 631.7C1929.1 628.2 1930.0 620.0 1930.8 615.0C1931.6 610.0 1932.3 604.6 1933.3 601.7C1934.3 598.8 1935.6 597.2 1936.7 597.5C1937.8 597.8 1938.9 600.4 1940.0 603.3C1941.1 606.2 1942.2 612.8 1943.3 615.0C1944.4 617.2 1945.7 618.1 1946.7 616.7C1947.7 615.3 1948.4 611.2 1949.2 606.7C1950.0 602.2 1950.9 595.0 1951.7 590.0C1952.5 585.0 1953.2 580.3 1954.2 576.7C1955.2 573.1 1956.2 570.2 1957.5 568.3C1958.8 566.4 1959.9 565.8 1961.7 565.3C1963.5 564.8 1966.5 564.8 1968.3 565.0C1970.1 565.2 1971.2 565.0 1972.5 566.7C1973.8 568.4 1974.8 571.1 1975.8 575.0C1976.8 578.9 1977.6 584.2 1978.3 590.0C1979.0 595.8 1979.4 602.2 1980.0 610.0C1980.6 617.8 1981.2 627.2 1981.7 636.7C1982.2 646.2 1982.8 656.2 1983.3 666.7C1983.8 677.2 1984.4 690.6 1985.0 700.0C1985.6 709.4 1986.2 718.4 1986.7 723.3C1987.2 728.2 1987.5 729.5 1988.0 729.2C1988.5 728.9 1989.2 728.0 1989.7 721.7C1990.2 715.5 1990.8 703.7 1991.3 691.7C1991.8 679.8 1992.4 662.5 1993.0 650.0C1993.6 637.5 1994.1 626.7 1994.7 616.7C1995.3 606.7 1996.0 597.2 1996.7 590.0C1997.5 582.8 1998.2 577.0 1999.2 573.3C2000.2 569.5 2001.0 568.8 2002.5 567.5C2004.0 566.2 2006.5 567.0 2008.3 565.8C2010.1 564.5 2011.8 561.5 2013.3 560.0C2014.8 558.5 2016.0 557.7 2017.5 556.7C2019.0 555.7 2021.0 555.6 2022.5 554.2C2024.0 552.8 2025.2 549.8 2026.7 548.3C2028.2 546.8 2030.0 545.3 2031.7 545.0C2033.4 544.7 2035.0 546.4 2036.7 546.7C2038.4 547.0 2040.0 547.3 2041.7 546.7C2043.4 546.1 2045.2 543.3 2046.7 543.0C2048.2 542.7 2049.4 544.1 2050.8 545.0C2052.2 545.9 2053.5 548.3 2055.0 548.3C2056.5 548.3 2058.6 545.1 2060.0 545.0C2061.4 544.9 2062.2 545.8 2063.3 547.5C2064.4 549.2 2065.6 551.5 2066.7 555.0C2067.8 558.5 2068.9 563.0 2070.0 568.3C2071.1 573.6 2072.3 581.4 2073.3 586.7C2074.3 592.0 2075.0 598.1 2075.8 600.0C2076.6 601.9 2077.6 601.6 2078.3 598.3C2079.1 595.0 2079.7 585.7 2080.3 580.0C2080.9 574.3 2081.4 567.2 2082.0 564.2C2082.6 561.2 2083.1 561.6 2083.7 561.7C2084.3 561.8 2085.0 562.0 2085.8 565.0C2086.6 568.0 2087.5 573.6 2088.3 580.0C2089.1 586.4 2090.0 594.4 2090.8 603.3C2091.6 612.2 2092.5 622.7 2093.3 633.3C2094.1 643.9 2095.0 655.6 2095.8 666.7C2096.6 677.8 2097.3 690.8 2098.0 700.0C2098.7 709.2 2099.3 716.8 2100.0 721.7C2100.7 726.6 2101.2 728.7 2102.0 729.2C2102.8 729.8 2103.9 729.9 2104.7 725.0C2105.5 720.1 2105.9 711.1 2106.7 700.0C2107.4 688.9 2108.4 670.8 2109.2 658.3C2110.0 645.8 2110.9 635.3 2111.7 625.0C2112.5 614.7 2113.4 604.8 2114.2 596.7C2115.0 588.7 2115.7 582.0 2116.7 576.7C2117.7 571.4 2118.8 567.9 2120.0 565.0C2121.2 562.1 2122.5 560.5 2124.2 559.2C2125.9 558.0 2127.9 557.8 2130.0 557.5C2132.1 557.2 2134.9 557.0 2136.7 557.5C2138.5 558.0 2139.7 558.4 2140.8 560.8C2141.9 563.2 2142.5 567.1 2143.3 571.7C2144.1 576.3 2145.0 583.3 2145.8 588.3C2146.6 593.3 2147.5 599.1 2148.3 601.7C2149.1 604.4 2150.0 604.2 2150.8 604.2C2151.6 604.2 2152.5 604.6 2153.3 601.7C2154.1 598.8 2155.0 592.0 2155.8 586.7C2156.6 581.4 2157.3 574.9 2158.3 570.0C2159.3 565.1 2160.3 560.5 2161.7 557.5C2163.1 554.5 2164.8 553.0 2166.7 551.7C2168.6 550.5 2171.1 549.6 2173.3 550.0C2175.5 550.4 2178.2 553.1 2180.0 554.2C2181.8 555.3 2182.8 556.9 2184.2 556.7C2185.6 556.6 2186.8 555.0 2188.3 553.3C2189.8 551.6 2191.5 547.0 2193.3 546.7C2195.1 546.4 2197.4 551.9 2199.2 551.7C2201.0 551.6 2202.4 547.3 2204.2 545.8C2206.0 544.3 2208.2 542.5 2210.0 542.5C2211.8 542.5 2213.8 543.2 2215.0 545.8C2216.2 548.4 2216.7 552.9 2217.5 558.3C2218.3 563.7 2219.2 572.0 2220.0 578.3C2220.8 584.5 2221.7 593.3 2222.5 595.8C2223.3 598.3 2224.2 597.6 2225.0 593.3C2225.8 589.0 2226.7 577.2 2227.5 570.0C2228.3 562.8 2229.0 554.3 2230.0 550.0C2231.0 545.7 2232.5 545.5 2233.3 544.2C2234.1 543.0 2234.7 542.8 2235.0 542.5"/>
<line class="dash" x1="1595.4" y1="34.7" x2="1595.4" y2="1672"/>
<line class="dash" x1="1987.3" y1="34.7" x2="1987.3" y2="1672"/>
<path class="curve" stroke="#4F4F4F" d="M206.2 1346.2C211.4 1346.1 226.0 1346.1 237.5 1345.8C249.0 1345.5 262.5 1345.1 275.0 1344.5C287.5 1343.9 302.1 1342.4 312.5 1342.0C322.9 1341.6 329.2 1341.8 337.5 1342.0C345.8 1342.2 355.4 1342.5 362.5 1343.0C369.6 1343.5 375.0 1344.2 380.0 1345.0C385.0 1345.8 389.2 1346.5 392.5 1347.5C395.8 1348.5 397.5 1349.3 400.0 1351.2C402.5 1353.1 405.2 1355.9 407.5 1358.8C409.8 1361.7 411.7 1366.1 413.8 1368.8C415.9 1371.5 417.3 1372.7 420.0 1375.0C422.7 1377.3 427.1 1380.0 430.0 1382.5C432.9 1385.0 435.0 1387.1 437.5 1390.0C440.0 1392.9 442.5 1396.2 445.0 1400.0C447.5 1403.8 450.0 1408.3 452.5 1412.5C455.0 1416.7 457.7 1421.0 460.0 1425.0C462.3 1429.0 464.1 1432.7 466.2 1436.2C468.3 1439.7 470.6 1443.7 472.5 1446.2C474.4 1448.7 475.0 1449.3 477.5 1451.2C480.0 1453.1 483.8 1455.0 487.5 1457.5C491.2 1460.0 496.2 1463.5 500.0 1466.2C503.8 1468.9 507.1 1471.1 510.0 1473.8C512.9 1476.5 515.0 1479.6 517.5 1482.5C520.0 1485.4 522.5 1488.5 525.0 1491.2C527.5 1493.9 530.0 1496.7 532.5 1498.8C535.0 1500.9 537.1 1502.3 540.0 1503.8C542.9 1505.2 546.2 1506.5 550.0 1507.5C553.8 1508.5 558.3 1509.0 562.5 1510.0C566.7 1511.0 571.2 1512.5 575.0 1513.8C578.8 1515.0 581.9 1516.6 585.0 1517.5C588.1 1518.4 590.9 1519.0 593.8 1519.2C596.7 1519.4 599.4 1519.5 602.5 1518.8C605.6 1518.1 608.8 1516.7 612.5 1515.0C616.2 1513.3 620.8 1510.9 625.0 1508.8C629.2 1506.7 633.3 1504.6 637.5 1502.5C641.7 1500.4 645.8 1498.3 650.0 1496.2C654.2 1494.1 658.3 1492.1 662.5 1490.0C666.7 1487.9 670.8 1485.7 675.0 1483.8C679.2 1481.9 683.3 1480.7 687.5 1478.8C691.7 1476.9 696.2 1474.3 700.0 1472.5C703.8 1470.7 707.0 1469.1 710.0 1468.0C713.0 1466.9 715.4 1466.4 718.0 1465.8C720.6 1465.2 723.0 1465.4 725.5 1464.5C728.0 1463.6 730.5 1462.0 733.0 1460.5C735.5 1459.0 738.2 1458.2 740.5 1455.8C742.8 1453.4 744.9 1448.4 746.8 1446.2C748.7 1444.0 750.1 1442.9 751.8 1442.5C753.5 1442.1 755.1 1443.3 756.8 1443.8C758.5 1444.3 759.7 1446.2 761.8 1445.5C763.9 1444.8 767.1 1440.0 769.2 1439.5C771.3 1439.0 772.5 1441.1 774.2 1442.5C775.9 1443.9 777.7 1447.5 779.2 1448.0C780.7 1448.5 781.5 1447.5 783.0 1445.5C784.5 1443.5 786.3 1439.2 788.0 1436.2C789.7 1433.2 791.3 1430.8 793.0 1427.5C794.7 1424.2 796.3 1419.5 798.0 1416.2C799.7 1413.0 801.3 1410.2 803.0 1408.0C804.7 1405.8 806.1 1404.2 808.0 1403.2C809.9 1402.2 811.7 1401.8 814.2 1402.0C816.7 1402.2 820.1 1404.2 823.0 1404.2C825.9 1404.2 829.3 1402.3 831.8 1402.0C834.3 1401.7 836.1 1402.3 838.0 1402.5C839.9 1402.7 841.3 1404.0 843.0 1403.2C844.7 1402.4 846.3 1399.5 848.0 1397.5C849.7 1395.5 851.1 1392.5 853.0 1391.2C854.9 1390.0 856.9 1389.7 859.2 1390.0C861.5 1390.3 864.5 1392.2 866.8 1393.0C869.1 1393.8 870.7 1394.8 873.0 1394.5C875.3 1394.2 877.8 1392.5 880.5 1391.2C883.2 1390.0 886.5 1388.5 889.2 1387.0C891.9 1385.5 894.7 1382.9 896.8 1382.0C898.9 1381.1 899.9 1381.4 901.8 1381.8C903.7 1382.2 905.7 1383.6 908.0 1384.5C910.3 1385.4 911.8 1386.6 915.5 1387.0C919.2 1387.4 927.0 1387.8 930.5 1387.0C934.0 1386.2 934.7 1384.0 936.8 1382.5C938.9 1381.0 940.3 1379.0 943.0 1378.0C945.7 1377.0 950.3 1376.8 953.0 1376.2C955.7 1375.6 956.7 1375.0 959.2 1374.5C961.7 1374.0 964.9 1373.0 968.0 1373.0C971.1 1373.0 974.9 1374.2 978.0 1374.5C981.1 1374.8 983.9 1375.2 986.8 1375.0C989.7 1374.8 992.4 1373.6 995.5 1373.0C998.6 1372.4 1002.2 1372.1 1005.5 1371.2C1008.8 1370.3 1012.8 1368.3 1015.5 1367.5C1018.2 1366.7 1018.9 1366.3 1021.8 1366.2C1024.7 1366.1 1029.5 1366.5 1033.0 1366.8C1036.5 1367.1 1040.1 1367.9 1043.0 1368.2C1045.9 1368.5 1048.0 1369.3 1050.5 1368.8C1053.0 1368.3 1055.9 1365.8 1058.0 1365.0C1060.1 1364.2 1060.9 1363.5 1063.0 1363.8C1065.1 1364.1 1068.4 1366.5 1070.5 1366.8C1072.6 1367.1 1073.0 1366.6 1075.5 1365.8C1078.0 1365.0 1082.2 1363.0 1085.5 1362.0C1088.8 1361.0 1092.2 1360.2 1095.5 1360.0C1098.8 1359.8 1102.2 1360.5 1105.5 1360.5C1108.8 1360.5 1112.4 1360.6 1115.5 1360.0C1118.6 1359.4 1121.7 1357.4 1124.2 1357.0C1126.7 1356.6 1128.2 1357.1 1130.5 1357.5C1132.8 1357.9 1135.1 1359.7 1138.0 1359.5C1140.9 1359.3 1144.7 1357.2 1148.0 1356.2C1151.3 1355.2 1154.7 1354.4 1158.0 1353.8C1161.3 1353.2 1165.5 1352.4 1168.0 1352.5C1170.5 1352.6 1171.4 1353.6 1173.0 1354.2C1174.6 1354.8 1175.8 1356.5 1177.5 1356.2C1179.2 1355.9 1180.4 1353.1 1183.0 1352.5C1185.6 1351.9 1190.1 1353.0 1193.0 1352.5C1195.9 1352.0 1197.6 1350.2 1200.5 1349.5C1203.4 1348.8 1207.2 1348.7 1210.5 1348.0C1213.8 1347.3 1217.6 1345.6 1220.5 1345.5C1223.4 1345.4 1225.4 1347.4 1228.0 1347.5C1230.6 1347.6 1232.2 1346.1 1236.0 1346.2C1239.8 1346.3 1246.0 1347.5 1251.0 1348.0C1256.0 1348.5 1261.8 1349.4 1266.0 1349.2C1270.2 1349.0 1271.8 1347.6 1276.0 1347.0C1280.2 1346.4 1285.2 1345.7 1291.0 1345.5C1296.8 1345.3 1304.8 1345.8 1311.0 1345.8C1317.2 1345.8 1324.3 1345.5 1328.5 1345.8C1332.7 1346.1 1333.5 1346.7 1336.0 1347.5C1338.5 1348.3 1341.0 1349.7 1343.5 1350.5C1346.0 1351.3 1348.1 1352.3 1351.0 1352.5C1353.9 1352.7 1357.7 1352.3 1361.0 1351.8C1364.3 1351.3 1366.0 1350.0 1371.0 1349.5C1376.0 1349.0 1384.3 1348.8 1391.0 1348.5C1397.7 1348.2 1404.8 1347.7 1411.0 1347.5C1417.2 1347.3 1424.1 1347.1 1428.5 1347.5C1432.9 1347.9 1434.7 1348.8 1437.2 1350.0C1439.7 1351.2 1441.6 1353.2 1443.5 1355.0C1445.4 1356.8 1446.8 1359.2 1448.5 1360.5C1450.2 1361.8 1451.8 1362.5 1453.5 1362.5C1455.2 1362.5 1456.6 1361.8 1458.5 1360.5C1460.4 1359.2 1462.5 1356.6 1464.8 1355.0C1467.1 1353.4 1469.7 1351.7 1472.2 1350.8C1474.7 1349.9 1477.3 1349.5 1479.8 1349.5C1482.3 1349.5 1484.5 1349.7 1487.2 1350.5C1489.9 1351.3 1493.1 1352.8 1496.0 1354.2C1498.9 1355.6 1502.3 1357.8 1504.8 1358.8C1507.3 1359.8 1508.7 1360.1 1511.0 1360.0C1513.3 1359.9 1516.0 1358.5 1518.5 1358.2C1521.0 1357.9 1523.1 1357.8 1526.0 1358.0C1528.9 1358.2 1532.7 1358.5 1536.0 1359.2C1539.3 1359.9 1542.9 1360.8 1546.0 1362.0C1549.1 1363.2 1552.1 1364.5 1554.8 1366.2C1557.5 1368.0 1559.9 1370.5 1562.2 1372.5C1564.5 1374.5 1567.1 1377.1 1568.5 1378.5C1569.9 1379.9 1569.4 1379.4 1570.5 1381.0C1571.6 1382.6 1573.5 1385.4 1575.0 1388.3C1576.5 1391.2 1578.0 1394.1 1579.2 1398.3C1580.5 1402.5 1581.5 1407.5 1582.5 1413.3C1583.5 1419.1 1584.2 1426.1 1585.0 1433.3C1585.8 1440.5 1586.3 1448.4 1587.0 1456.7C1587.7 1465.0 1588.5 1476.1 1589.2 1483.3C1589.9 1490.5 1590.6 1496.7 1591.3 1500.0C1592.0 1503.3 1592.5 1503.8 1593.3 1503.3C1594.0 1502.8 1595.0 1500.6 1595.8 1496.7C1596.6 1492.8 1597.3 1486.1 1598.3 1480.0C1599.3 1473.9 1600.5 1465.5 1601.7 1460.0C1603.0 1454.5 1604.5 1450.3 1605.8 1446.7C1607.0 1443.1 1608.1 1440.0 1609.2 1438.3C1610.3 1436.6 1611.5 1436.4 1612.5 1436.7C1613.5 1437.0 1614.5 1437.2 1615.3 1440.0C1616.1 1442.8 1616.8 1446.1 1617.5 1453.3C1618.2 1460.5 1619.0 1472.2 1619.7 1483.3C1620.4 1494.4 1621.0 1508.9 1621.7 1520.0C1622.4 1531.1 1623.0 1542.5 1623.7 1550.0C1624.4 1557.5 1625.2 1563.6 1625.8 1565.0C1626.4 1566.4 1626.9 1562.2 1627.5 1558.3C1628.1 1554.4 1628.5 1547.5 1629.2 1541.7C1629.9 1535.9 1630.7 1528.0 1631.7 1523.3C1632.7 1518.6 1634.0 1516.6 1635.0 1513.3C1636.0 1510.0 1637.1 1507.7 1638.0 1503.3C1638.9 1498.9 1639.4 1494.5 1640.3 1486.7C1641.2 1478.9 1642.2 1465.9 1643.3 1456.7C1644.4 1447.5 1645.6 1437.8 1646.7 1431.7C1647.8 1425.6 1648.9 1422.4 1650.0 1420.0C1651.1 1417.6 1652.2 1417.6 1653.3 1417.5C1654.3 1417.4 1655.5 1417.4 1656.3 1419.2C1657.1 1421.0 1657.5 1423.2 1658.3 1428.3C1659.0 1433.4 1660.0 1443.6 1660.8 1450.0C1661.6 1456.4 1662.3 1463.2 1663.0 1466.7C1663.7 1470.2 1664.1 1470.8 1664.7 1470.8C1665.3 1470.8 1666.0 1469.9 1666.7 1466.7C1667.4 1463.5 1668.1 1455.5 1668.7 1451.7C1669.3 1448.0 1669.8 1445.3 1670.5 1444.2C1671.2 1443.1 1672.2 1443.5 1673.0 1445.0C1673.8 1446.5 1674.3 1447.8 1675.0 1453.3C1675.7 1458.8 1676.3 1468.6 1677.0 1478.3C1677.7 1488.0 1678.5 1499.8 1679.2 1511.7C1679.9 1523.7 1680.6 1538.9 1681.3 1550.0C1682.0 1561.1 1682.6 1571.3 1683.3 1578.3C1684.0 1585.2 1684.6 1590.3 1685.3 1591.7C1686.0 1593.1 1686.5 1591.7 1687.2 1586.7C1687.9 1581.7 1688.5 1571.4 1689.2 1561.7C1690.0 1552.0 1690.8 1540.2 1691.7 1528.3C1692.6 1516.3 1693.7 1500.5 1694.7 1490.0C1695.7 1479.5 1696.5 1472.0 1697.5 1465.0C1698.5 1458.0 1699.7 1452.2 1700.8 1448.3C1701.9 1444.4 1703.1 1442.2 1704.2 1441.7C1705.3 1441.2 1706.4 1442.2 1707.5 1445.0C1708.6 1447.8 1709.7 1453.3 1710.8 1458.3C1711.9 1463.3 1713.1 1469.7 1714.2 1475.0C1715.3 1480.3 1716.4 1486.2 1717.5 1490.0C1718.6 1493.8 1719.5 1496.4 1720.8 1497.5C1722.0 1498.6 1723.6 1497.4 1725.0 1496.7C1726.4 1496.0 1728.0 1495.2 1729.2 1493.3C1730.5 1491.3 1731.4 1489.2 1732.5 1485.0C1733.6 1480.8 1734.7 1475.0 1735.8 1468.3C1736.9 1461.6 1738.1 1452.2 1739.2 1445.0C1740.3 1437.8 1741.4 1430.0 1742.5 1425.0C1743.6 1420.0 1744.8 1417.0 1745.8 1415.0C1746.8 1413.0 1747.4 1412.8 1748.3 1413.3C1749.2 1413.8 1750.3 1415.2 1751.3 1418.3C1752.3 1421.4 1753.2 1427.2 1754.2 1431.7C1755.2 1436.2 1756.1 1441.1 1757.5 1445.0C1758.9 1448.9 1760.8 1452.0 1762.5 1455.0C1764.2 1458.0 1766.1 1460.8 1767.5 1463.3C1768.9 1465.8 1769.8 1466.1 1770.8 1470.0C1771.8 1473.9 1772.5 1479.8 1773.3 1486.7C1774.0 1493.7 1774.6 1502.0 1775.3 1511.7C1776.0 1521.4 1776.5 1535.3 1777.2 1545.0C1777.9 1554.7 1778.6 1566.7 1779.2 1570.0C1779.8 1573.3 1780.2 1569.7 1780.8 1565.0C1781.3 1560.3 1781.8 1550.6 1782.5 1541.7C1783.2 1532.8 1783.9 1522.3 1784.7 1511.7C1785.5 1501.1 1786.5 1487.5 1787.5 1478.3C1788.5 1469.1 1789.7 1462.5 1790.8 1456.7C1791.9 1450.9 1793.1 1446.2 1794.2 1443.3C1795.3 1440.4 1796.2 1439.8 1797.5 1439.2C1798.8 1438.7 1800.5 1440.4 1801.7 1440.0C1803.0 1439.6 1803.9 1437.7 1805.0 1436.7C1806.1 1435.7 1807.2 1433.9 1808.3 1434.2C1809.4 1434.5 1810.6 1435.4 1811.7 1438.3C1812.8 1441.2 1813.9 1446.4 1815.0 1451.7C1816.1 1457.0 1817.2 1463.3 1818.3 1470.0C1819.4 1476.7 1820.7 1483.4 1821.7 1491.7C1822.7 1500.0 1823.4 1510.3 1824.2 1520.0C1825.0 1529.7 1825.9 1541.7 1826.7 1550.0C1827.5 1558.3 1828.4 1565.0 1829.2 1570.0C1830.0 1575.0 1830.6 1577.4 1831.7 1580.0C1832.8 1582.6 1834.3 1584.5 1835.8 1585.8C1837.3 1587.0 1839.1 1587.3 1840.8 1587.5C1842.5 1587.7 1844.3 1587.4 1845.8 1586.7C1847.3 1586.0 1848.8 1585.2 1850.0 1583.3C1851.2 1581.3 1852.0 1578.0 1853.3 1575.0C1854.5 1572.0 1856.1 1567.8 1857.5 1565.0C1858.9 1562.2 1860.3 1561.1 1861.7 1558.3C1863.1 1555.5 1864.5 1552.7 1865.8 1548.3C1867.0 1543.9 1868.2 1537.5 1869.2 1531.7C1870.2 1525.9 1870.9 1518.0 1871.7 1513.3C1872.5 1508.6 1873.4 1505.2 1874.2 1503.3C1875.0 1501.4 1876.0 1500.9 1876.7 1501.7C1877.5 1502.5 1878.0 1503.9 1878.7 1508.3C1879.4 1512.7 1880.2 1520.8 1880.8 1528.3C1881.4 1535.8 1881.9 1547.0 1882.5 1553.3C1883.1 1559.5 1883.5 1564.3 1884.2 1565.8C1884.9 1567.3 1886.0 1565.1 1886.7 1562.5C1887.4 1559.9 1887.8 1557.1 1888.3 1550.0C1888.8 1542.9 1889.3 1530.5 1890.0 1520.0C1890.7 1509.5 1891.5 1497.8 1892.5 1486.7C1893.5 1475.6 1894.5 1463.1 1895.8 1453.3C1897.0 1443.5 1898.7 1435.2 1900.0 1428.0C1901.3 1420.8 1902.4 1414.3 1903.5 1410.0C1904.6 1405.7 1905.4 1404.4 1906.5 1402.0C1907.6 1399.6 1908.7 1397.1 1910.0 1395.5C1911.3 1393.9 1913.0 1392.3 1914.2 1392.5C1915.5 1392.7 1916.5 1393.8 1917.5 1396.7C1918.5 1399.6 1919.2 1404.5 1920.0 1410.0C1920.8 1415.5 1921.7 1423.6 1922.5 1430.0C1923.3 1436.4 1924.2 1444.5 1925.0 1448.3C1925.8 1452.0 1926.7 1452.8 1927.5 1452.5C1928.3 1452.2 1929.1 1451.0 1929.7 1446.7C1930.3 1442.4 1930.8 1433.1 1931.3 1426.7C1931.8 1420.3 1932.4 1412.2 1933.0 1408.3C1933.6 1404.4 1934.2 1403.6 1935.0 1403.3C1935.8 1403.0 1936.7 1404.2 1937.5 1406.7C1938.3 1409.2 1939.1 1415.1 1940.0 1418.3C1940.9 1421.5 1942.0 1425.2 1943.0 1425.8C1944.0 1426.4 1944.9 1424.9 1945.8 1421.7C1946.7 1418.5 1947.5 1412.5 1948.3 1406.7C1949.1 1400.9 1950.0 1392.0 1950.8 1386.7C1951.6 1381.4 1952.3 1377.9 1953.3 1375.0C1954.3 1372.1 1955.2 1370.5 1956.7 1369.2C1958.2 1368.0 1960.6 1367.5 1962.5 1367.5C1964.4 1367.5 1966.6 1368.2 1968.3 1369.2C1970.0 1370.2 1971.4 1370.4 1972.5 1373.3C1973.6 1376.2 1974.3 1380.6 1975.0 1386.7C1975.7 1392.8 1976.2 1401.1 1976.7 1410.0C1977.2 1418.9 1977.8 1429.5 1978.3 1440.0C1978.8 1450.5 1979.4 1462.2 1980.0 1473.3C1980.6 1484.4 1981.2 1496.7 1981.7 1506.7C1982.2 1516.7 1982.7 1526.9 1983.3 1533.3C1983.9 1539.7 1984.7 1544.4 1985.3 1545.0C1985.9 1545.6 1986.4 1543.7 1987.0 1536.7C1987.6 1529.8 1988.2 1515.8 1988.7 1503.3C1989.2 1490.8 1989.8 1475.6 1990.3 1461.7C1990.8 1447.8 1991.3 1432.0 1992.0 1420.0C1992.7 1408.0 1993.4 1397.8 1994.2 1390.0C1995.0 1382.2 1995.7 1377.0 1996.7 1373.3C1997.7 1369.5 1998.9 1368.8 2000.0 1367.5C2001.1 1366.2 2002.0 1365.5 2003.3 1365.8C2004.5 1366.1 2006.1 1368.1 2007.5 1369.2C2008.9 1370.3 2010.2 1372.0 2011.7 1372.5C2013.2 1373.0 2015.2 1373.2 2016.7 1372.5C2018.2 1371.8 2019.4 1370.4 2020.8 1368.3C2022.2 1366.2 2023.6 1362.6 2025.0 1360.0C2026.4 1357.4 2027.5 1354.3 2029.2 1352.5C2030.9 1350.7 2032.9 1349.3 2035.0 1349.2C2037.1 1349.1 2039.6 1351.2 2041.7 1351.7C2043.8 1352.2 2045.8 1351.8 2047.5 1352.5C2049.2 1353.2 2050.4 1354.5 2051.7 1355.8C2053.0 1357.0 2054.2 1360.0 2055.3 1360.0C2056.4 1360.0 2057.3 1357.2 2058.3 1355.8C2059.3 1354.4 2060.3 1352.0 2061.3 1351.7C2062.3 1351.4 2063.2 1352.3 2064.2 1354.2C2065.2 1356.1 2066.5 1359.5 2067.5 1363.3C2068.5 1367.0 2069.4 1371.7 2070.3 1376.7C2071.2 1381.7 2072.1 1389.1 2073.0 1393.3C2073.9 1397.5 2075.0 1400.9 2075.8 1401.7C2076.6 1402.5 2077.3 1401.1 2078.0 1398.3C2078.7 1395.5 2079.3 1388.2 2080.0 1385.0C2080.7 1381.8 2081.4 1380.2 2082.0 1379.2C2082.6 1378.2 2083.1 1378.0 2083.7 1378.7C2084.3 1379.4 2085.1 1380.3 2085.8 1383.3C2086.5 1386.3 2087.2 1390.0 2088.0 1396.7C2088.8 1403.4 2089.6 1413.3 2090.3 1423.3C2091.1 1433.3 2091.8 1444.8 2092.5 1456.7C2093.2 1468.7 2094.0 1482.2 2094.7 1495.0C2095.4 1507.8 2096.1 1522.5 2096.7 1533.3C2097.3 1544.1 2097.8 1553.9 2098.3 1560.0C2098.8 1566.1 2099.0 1567.8 2099.7 1570.0C2100.4 1572.2 2101.7 1571.3 2102.5 1573.3C2103.3 1575.2 2104.1 1579.3 2104.7 1581.7C2105.3 1584.1 2105.7 1587.8 2106.3 1587.5C2106.9 1587.2 2107.7 1585.7 2108.3 1580.0C2108.9 1574.3 2109.4 1564.7 2110.0 1553.3C2110.6 1541.9 2111.1 1525.6 2111.7 1511.7C2112.2 1497.8 2112.7 1483.9 2113.3 1470.0C2113.9 1456.1 2114.6 1440.2 2115.3 1428.3C2116.0 1416.3 2116.7 1406.3 2117.5 1398.3C2118.3 1390.2 2119.0 1384.6 2120.0 1380.0C2121.0 1375.4 2122.1 1372.9 2123.3 1370.8C2124.6 1368.7 2126.1 1368.1 2127.5 1367.5C2128.9 1366.9 2130.3 1366.7 2131.7 1367.0C2133.1 1367.3 2134.5 1367.6 2135.8 1369.2C2137.1 1370.8 2138.6 1372.7 2139.7 1376.7C2140.8 1380.7 2141.6 1386.6 2142.5 1393.3C2143.4 1400.0 2144.2 1408.4 2145.0 1416.7C2145.8 1425.0 2146.7 1435.0 2147.5 1443.3C2148.3 1451.6 2149.2 1460.6 2150.0 1466.7C2150.8 1472.8 2151.7 1477.9 2152.5 1480.0C2153.3 1482.1 2154.2 1482.2 2155.0 1479.2C2155.8 1476.2 2156.7 1470.2 2157.5 1461.7C2158.3 1453.2 2159.0 1438.6 2159.7 1428.3C2160.4 1418.0 2160.9 1408.0 2161.7 1400.0C2162.4 1392.0 2163.2 1385.0 2164.2 1380.0C2165.2 1375.0 2166.1 1372.2 2167.5 1370.0C2168.9 1367.8 2170.8 1367.4 2172.5 1366.7C2174.2 1366.0 2175.8 1365.2 2177.5 1365.8C2179.2 1366.3 2181.0 1368.3 2182.5 1370.0C2184.0 1371.7 2185.4 1375.2 2186.7 1375.8C2187.9 1376.3 2188.9 1374.5 2190.0 1373.3C2191.1 1372.0 2192.1 1368.1 2193.3 1368.3C2194.6 1368.5 2196.2 1373.9 2197.5 1374.2C2198.8 1374.5 2199.8 1372.1 2200.8 1370.0C2201.8 1367.9 2202.7 1363.5 2203.7 1361.7C2204.7 1359.9 2205.7 1359.1 2206.7 1359.2C2207.7 1359.3 2208.7 1359.9 2209.7 1362.5C2210.7 1365.1 2211.6 1370.1 2212.5 1375.0C2213.4 1379.9 2214.2 1386.7 2215.0 1391.7C2215.8 1396.7 2216.8 1402.7 2217.5 1405.0C2218.2 1407.3 2218.6 1406.9 2219.2 1405.8C2219.8 1404.7 2220.6 1402.3 2221.3 1398.3C2222.0 1394.3 2222.6 1386.4 2223.3 1381.7C2224.1 1377.0 2224.8 1373.1 2225.8 1370.0C2226.8 1366.9 2227.9 1365.0 2229.2 1363.3C2230.4 1361.6 2232.2 1360.8 2233.3 1360.0C2234.4 1359.2 2235.4 1358.9 2235.8 1358.7"/>
<path class="curve" stroke="#026DD7" d="M206.2 803.5C213.5 803.3 234.4 802.6 250.0 802.2C265.6 801.8 283.3 801.4 300.0 801.0C316.7 800.6 337.5 799.9 350.0 799.8C362.5 799.7 368.3 799.7 375.0 800.2C381.7 800.7 385.8 801.5 390.0 802.9C394.2 804.3 396.2 805.3 400.0 808.8C403.8 812.3 408.3 818.6 412.5 823.8C416.7 829.0 420.8 834.6 425.0 840.0C429.2 845.4 433.3 850.6 437.5 856.2C441.7 861.8 445.8 868.2 450.0 873.8C454.2 879.4 458.3 884.6 462.5 890.0C466.7 895.4 471.7 902.2 475.0 906.2C478.3 910.2 479.6 911.4 482.5 913.8C485.4 916.2 488.8 918.3 492.5 920.5C496.2 922.7 501.2 925.0 505.0 927.0C508.8 929.0 511.7 930.3 515.0 932.5C518.3 934.7 521.2 937.1 525.0 940.0C528.8 942.9 533.3 946.7 537.5 950.0C541.7 953.3 545.8 956.9 550.0 960.0C554.2 963.1 558.3 966.2 562.5 968.8C566.7 971.4 570.8 973.8 575.0 975.8C579.2 977.8 583.3 979.4 587.5 980.5C591.7 981.6 595.8 982.4 600.0 982.5C604.2 982.6 608.3 982.0 612.5 981.2C616.7 980.4 620.8 979.0 625.0 977.5C629.2 976.0 633.3 974.4 637.5 972.5C641.7 970.6 645.8 968.3 650.0 966.2C654.2 964.1 658.3 962.1 662.5 960.0C666.7 957.9 670.8 956.0 675.0 953.8C679.2 951.6 683.3 949.3 687.5 947.0C691.7 944.7 696.2 942.2 700.0 940.0C703.8 937.8 707.0 935.4 710.0 933.8C713.0 932.2 715.0 931.8 718.0 930.5C721.0 929.2 724.7 928.2 728.0 926.2C731.3 924.2 734.7 921.8 738.0 918.8C741.3 915.8 745.3 910.1 748.0 908.0C750.7 905.9 752.1 906.5 754.2 906.2C756.3 905.9 758.0 907.2 760.5 906.2C763.0 905.2 766.7 900.2 769.2 900.0C771.7 899.8 773.6 903.5 775.5 905.0C777.4 906.5 778.6 909.0 780.5 908.8C782.4 908.6 784.7 906.5 786.8 903.8C788.9 901.1 790.7 896.7 793.0 892.5C795.3 888.3 798.0 882.5 800.5 878.8C803.0 875.0 805.9 871.8 808.0 870.0C810.1 868.2 811.1 867.9 813.0 868.0C814.9 868.1 817.3 869.8 819.2 870.5C821.1 871.2 822.1 872.4 824.2 872.5C826.3 872.6 829.7 870.8 831.8 871.2C833.9 871.6 835.3 874.0 836.8 875.0C838.3 876.0 839.5 877.7 841.0 877.5C842.5 877.3 843.9 876.3 845.5 873.8C847.1 871.3 848.8 865.3 850.5 862.5C852.2 859.7 853.8 858.0 855.5 857.0C857.2 856.0 858.4 856.3 860.5 856.8C862.6 857.3 865.7 859.0 868.0 860.0C870.3 861.0 872.1 862.9 874.2 863.0C876.3 863.1 878.2 862.5 880.5 860.8C882.8 859.0 885.5 855.2 888.0 852.5C890.5 849.8 893.2 846.2 895.5 844.5C897.8 842.8 899.7 842.4 901.8 842.5C903.9 842.6 905.7 843.9 908.0 845.0C910.3 846.1 913.0 848.5 915.5 849.2C918.0 849.9 920.7 849.5 923.0 849.2C925.3 848.9 927.1 848.8 929.2 847.5C931.3 846.2 933.4 843.0 935.5 841.2C937.6 839.4 939.3 837.9 941.8 836.8C944.3 835.7 947.6 835.4 950.5 834.5C953.4 833.6 956.3 832.0 959.2 831.2C962.1 830.4 965.3 829.7 968.0 829.5C970.7 829.3 972.6 829.4 975.5 830.0C978.4 830.6 982.6 832.7 985.5 833.0C988.4 833.3 990.1 832.6 993.0 832.0C995.9 831.4 1000.1 830.2 1003.0 829.2C1005.9 828.2 1008.0 827.3 1010.5 826.2C1013.0 825.1 1015.7 823.1 1018.0 822.5C1020.3 821.9 1021.9 822.0 1024.2 822.5C1026.5 823.0 1029.5 825.2 1031.8 825.8C1034.1 826.4 1035.7 825.7 1038.0 826.2C1040.3 826.7 1043.4 828.4 1045.5 828.8C1047.6 829.2 1048.6 829.6 1050.5 828.8C1052.4 828.0 1054.9 825.0 1056.8 823.8C1058.7 822.6 1060.1 821.9 1061.8 821.8C1063.5 821.7 1064.9 822.3 1066.8 823.0C1068.7 823.7 1070.9 825.8 1073.0 825.8C1075.1 825.8 1076.9 824.1 1079.2 823.2C1081.5 822.3 1084.1 821.0 1086.8 820.5C1089.5 820.0 1092.8 820.3 1095.5 820.5C1098.2 820.7 1100.5 821.7 1103.0 821.8C1105.5 821.9 1108.0 821.8 1110.5 821.2C1113.0 820.6 1115.5 819.0 1118.0 818.0C1120.5 817.0 1122.8 815.8 1125.5 815.5C1128.2 815.2 1131.7 816.3 1134.2 816.2C1136.7 816.1 1137.8 815.9 1140.5 815.0C1143.2 814.1 1146.8 811.8 1150.5 810.8C1154.2 809.8 1158.8 809.0 1163.0 808.8C1167.2 808.6 1172.2 809.6 1175.5 809.5C1178.8 809.4 1180.5 808.0 1183.0 808.0C1185.5 808.0 1187.2 809.4 1190.5 809.5C1193.8 809.6 1198.4 809.2 1203.0 808.8C1207.6 808.4 1213.8 807.1 1218.0 807.0C1222.2 806.9 1225.0 807.9 1228.0 808.0C1231.0 808.1 1232.2 807.4 1236.0 807.5C1239.8 807.6 1246.0 808.5 1251.0 808.8C1256.0 809.1 1261.0 809.5 1266.0 809.2C1271.0 808.9 1275.2 807.6 1281.0 807.0C1286.8 806.4 1294.8 805.9 1301.0 805.5C1307.2 805.1 1313.5 804.6 1318.5 804.5C1323.5 804.4 1327.7 804.5 1331.0 805.0C1334.3 805.5 1336.0 806.5 1338.5 807.5C1341.0 808.5 1343.3 810.4 1346.0 811.2C1348.7 812.0 1351.5 812.6 1354.8 812.5C1358.1 812.4 1361.6 811.4 1366.0 810.8C1370.4 810.2 1375.6 809.3 1381.0 808.8C1386.4 808.2 1392.7 808.0 1398.5 807.5C1404.3 807.0 1410.6 805.8 1416.0 805.5C1421.4 805.2 1426.8 805.2 1431.0 805.8C1435.2 806.3 1438.1 807.1 1441.0 808.8C1443.9 810.5 1446.3 814.2 1448.5 816.2C1450.7 818.2 1452.1 820.3 1454.0 820.5C1455.9 820.7 1457.4 819.2 1459.8 817.5C1462.2 815.8 1465.6 811.8 1468.5 810.0C1471.4 808.2 1474.3 807.3 1477.2 807.0C1480.1 806.7 1482.9 807.3 1486.0 808.0C1489.1 808.7 1492.7 810.2 1496.0 811.2C1499.3 812.2 1503.1 813.7 1506.0 814.2C1508.9 814.7 1510.6 814.9 1513.5 814.2C1516.4 813.5 1519.8 810.8 1523.5 810.0C1527.2 809.2 1532.2 809.2 1536.0 809.2C1539.8 809.2 1543.1 809.4 1546.0 810.0C1548.9 810.6 1551.0 811.5 1553.5 813.0C1556.0 814.5 1558.7 816.6 1561.0 818.8C1563.3 821.0 1565.7 823.9 1567.2 826.0C1568.7 828.1 1568.8 829.2 1570.0 831.5C1571.2 833.8 1573.0 836.4 1574.2 840.0C1575.5 843.6 1576.5 848.3 1577.5 853.3C1578.5 858.3 1579.2 862.8 1580.0 870.0C1580.8 877.2 1581.7 887.0 1582.5 896.7C1583.3 906.4 1584.2 917.5 1585.0 928.3C1585.8 939.1 1586.7 951.1 1587.5 961.7C1588.3 972.3 1589.2 983.7 1590.0 991.7C1590.8 999.8 1591.5 1005.8 1592.5 1010.0C1593.5 1014.2 1594.7 1016.4 1595.8 1016.7C1596.9 1017.0 1598.1 1015.3 1599.2 1011.7C1600.3 1008.1 1601.4 1001.4 1602.5 995.0C1603.6 988.6 1604.7 981.3 1605.8 973.3C1606.9 965.2 1608.2 953.9 1609.2 946.7C1610.2 939.5 1611.1 933.3 1612.0 930.0C1612.9 926.7 1613.9 926.7 1614.7 926.7C1615.5 926.7 1616.2 926.1 1617.0 930.0C1617.8 933.9 1618.5 942.0 1619.2 950.0C1619.9 958.0 1620.6 968.8 1621.3 978.3C1622.0 987.8 1622.6 999.2 1623.3 1006.7C1624.0 1014.2 1624.8 1021.9 1625.5 1023.3C1626.2 1024.7 1626.8 1019.7 1627.5 1015.0C1628.2 1010.3 1628.9 1000.5 1629.7 995.0C1630.5 989.5 1631.3 985.6 1632.5 981.7C1633.7 977.8 1635.5 976.4 1636.7 971.7C1638.0 967.0 1638.9 961.9 1640.0 953.3C1641.1 944.7 1642.2 930.0 1643.3 920.0C1644.4 910.0 1645.6 900.0 1646.7 893.3C1647.8 886.6 1648.9 882.8 1650.0 880.0C1651.1 877.2 1652.3 877.2 1653.3 876.7C1654.3 876.2 1655.0 875.6 1655.8 876.7C1656.6 877.8 1657.5 878.9 1658.3 883.3C1659.1 887.7 1660.0 896.9 1660.8 903.3C1661.6 909.7 1662.3 917.8 1663.0 921.7C1663.7 925.6 1664.0 926.7 1664.7 926.7C1665.5 926.7 1666.7 925.6 1667.5 921.7C1668.3 917.8 1669.0 907.2 1669.7 903.3C1670.4 899.4 1671.0 899.0 1671.7 898.3C1672.5 897.6 1673.4 897.0 1674.2 899.2C1675.0 901.4 1675.6 905.5 1676.3 911.7C1677.0 918.0 1677.6 927.0 1678.3 936.7C1679.0 946.4 1679.6 958.9 1680.3 970.0C1681.0 981.1 1681.8 993.6 1682.5 1003.3C1683.2 1013.0 1683.7 1022.0 1684.2 1028.3C1684.8 1034.5 1685.2 1040.0 1685.8 1040.8C1686.3 1041.6 1686.8 1039.5 1687.5 1033.3C1688.2 1027.0 1688.9 1013.8 1689.7 1003.3C1690.5 992.8 1691.5 980.5 1692.5 970.0C1693.5 959.5 1694.7 948.3 1695.8 940.0C1696.9 931.7 1698.1 924.9 1699.2 920.0C1700.3 915.1 1701.4 912.5 1702.5 910.8C1703.6 909.1 1704.7 909.0 1705.8 910.0C1706.9 911.0 1708.1 912.8 1709.2 916.7C1710.3 920.6 1711.4 927.2 1712.5 933.3C1713.6 939.4 1714.7 947.2 1715.8 953.3C1716.9 959.4 1718.1 965.5 1719.2 970.0C1720.3 974.5 1721.4 977.8 1722.5 980.0C1723.6 982.2 1724.8 983.0 1725.8 983.3C1726.8 983.6 1727.5 983.1 1728.3 981.7C1729.1 980.3 1729.8 979.2 1730.8 975.0C1731.8 970.8 1733.1 964.5 1734.2 956.7C1735.3 948.9 1736.2 937.5 1737.5 928.3C1738.8 919.1 1740.5 908.4 1741.7 901.7C1743.0 895.0 1743.9 891.1 1745.0 888.3C1746.1 885.5 1747.3 884.7 1748.3 885.0C1749.3 885.3 1750.0 886.4 1750.8 890.0C1751.6 893.6 1752.5 901.2 1753.3 906.7C1754.1 912.2 1755.0 918.6 1755.8 923.3C1756.6 928.0 1757.0 932.7 1758.0 935.0C1759.0 937.3 1760.1 936.8 1761.7 937.2C1763.3 937.6 1766.0 936.8 1767.5 937.5C1769.0 938.2 1769.8 938.5 1770.8 941.7C1771.8 944.9 1772.5 949.2 1773.3 956.7C1774.1 964.2 1775.1 977.5 1775.8 986.7C1776.5 995.9 1776.8 1004.8 1777.5 1011.7C1778.2 1018.6 1779.0 1027.8 1779.7 1028.3C1780.4 1028.8 1781.0 1021.9 1781.7 1015.0C1782.4 1008.1 1783.0 997.0 1783.8 986.7C1784.6 976.4 1785.7 963.9 1786.7 953.3C1787.7 942.7 1788.9 931.6 1790.0 923.3C1791.1 915.0 1792.2 907.9 1793.3 903.3C1794.4 898.7 1795.5 896.6 1796.7 895.8C1798.0 895.0 1799.4 898.6 1800.8 898.3C1802.2 898.0 1803.9 896.1 1805.0 894.2C1806.1 892.3 1806.7 888.1 1807.5 886.7C1808.3 885.3 1809.2 885.2 1810.0 885.8C1810.8 886.3 1811.5 887.1 1812.5 890.0C1813.5 892.9 1814.7 897.8 1815.8 903.3C1816.9 908.8 1818.1 915.5 1819.2 923.3C1820.3 931.1 1821.5 940.8 1822.5 950.0C1823.5 959.2 1824.2 969.4 1825.0 978.3C1825.8 987.2 1826.7 995.8 1827.5 1003.3C1828.3 1010.8 1829.0 1017.5 1830.0 1023.3C1831.0 1029.1 1832.0 1034.8 1833.3 1038.3C1834.5 1041.8 1836.1 1043.8 1837.5 1044.2C1838.9 1044.6 1840.2 1042.0 1841.7 1040.8C1843.2 1039.5 1845.0 1038.2 1846.7 1036.7C1848.4 1035.2 1850.0 1034.2 1851.7 1031.7C1853.4 1029.2 1855.0 1025.9 1856.7 1021.7C1858.4 1017.5 1860.0 1012.5 1861.7 1006.7C1863.4 1000.9 1865.2 993.7 1866.7 986.7C1868.2 979.8 1869.5 970.3 1870.8 965.0C1872.0 959.7 1873.2 957.0 1874.2 955.0C1875.2 953.0 1875.9 952.2 1876.7 953.3C1877.5 954.4 1878.4 956.1 1879.2 961.7C1880.0 967.3 1880.7 978.7 1881.3 986.7C1881.9 994.8 1882.4 1004.7 1883.0 1010.0C1883.6 1015.3 1884.0 1017.8 1884.7 1018.3C1885.5 1018.8 1886.8 1017.2 1887.5 1013.3C1888.2 1009.4 1888.7 1003.6 1889.2 995.0C1889.8 986.4 1890.1 972.8 1890.8 961.7C1891.5 950.6 1892.3 938.6 1893.3 928.3C1894.3 918.0 1895.5 908.2 1896.7 900.0C1898.0 891.8 1899.4 884.5 1900.8 879.0C1902.2 873.5 1903.5 870.1 1905.0 867.0C1906.5 863.9 1908.3 861.8 1910.0 860.5C1911.7 859.2 1913.7 858.0 1915.0 859.0C1916.3 860.0 1917.1 862.7 1918.0 866.7C1918.9 870.8 1919.5 877.2 1920.3 883.3C1921.0 889.4 1921.8 896.6 1922.5 903.3C1923.2 910.0 1924.0 918.4 1924.7 923.3C1925.4 928.2 1926.0 931.4 1926.7 932.5C1927.4 933.6 1928.1 933.5 1928.7 930.0C1929.3 926.5 1929.8 918.4 1930.3 911.7C1930.8 905.0 1931.3 895.4 1932.0 890.0C1932.7 884.6 1933.4 881.2 1934.2 879.2C1935.0 877.2 1936.2 877.0 1937.0 878.3C1937.8 879.5 1938.4 883.1 1939.2 886.7C1940.0 890.3 1940.9 897.2 1941.7 900.0C1942.5 902.8 1943.4 903.3 1944.2 903.3C1945.0 903.3 1945.9 903.3 1946.7 900.0C1947.5 896.7 1948.4 889.4 1949.2 883.3C1950.0 877.2 1950.9 869.1 1951.7 863.3C1952.5 857.5 1953.2 852.3 1954.2 848.3C1955.2 844.3 1956.1 841.4 1957.5 839.2C1958.9 837.0 1960.7 835.8 1962.5 835.0C1964.3 834.2 1966.6 833.9 1968.3 834.2C1970.0 834.5 1971.4 834.4 1972.5 836.7C1973.6 839.1 1974.3 842.8 1975.0 848.3C1975.7 853.8 1976.2 861.4 1976.7 870.0C1977.2 878.6 1977.8 889.5 1978.3 900.0C1978.8 910.5 1979.4 922.2 1980.0 933.3C1980.6 944.4 1981.2 956.4 1981.7 966.7C1982.2 977.0 1982.7 988.1 1983.3 995.0C1983.9 1001.9 1984.7 1007.5 1985.3 1008.3C1985.9 1009.1 1986.4 1006.4 1987.0 1000.0C1987.6 993.6 1988.2 982.0 1988.7 970.0C1989.2 958.0 1989.8 942.2 1990.3 928.3C1990.8 914.4 1991.3 899.2 1992.0 886.7C1992.7 874.2 1993.4 861.6 1994.2 853.3C1995.0 845.0 1995.7 840.7 1996.7 836.7C1997.7 832.7 1998.8 830.6 2000.0 829.2C2001.2 827.8 2002.8 828.2 2004.2 828.3C2005.6 828.4 2006.8 830.1 2008.3 830.0C2009.8 829.9 2011.6 828.2 2013.3 827.5C2015.0 826.8 2016.8 826.3 2018.3 825.8C2019.8 825.2 2021.2 825.6 2022.5 824.2C2023.8 822.8 2024.5 819.5 2025.8 817.5C2027.0 815.5 2028.2 813.8 2030.0 812.5C2031.8 811.2 2034.6 810.0 2036.7 810.0C2038.8 810.0 2040.7 812.0 2042.5 812.5C2044.3 813.0 2046.0 812.5 2047.5 813.0C2049.0 813.5 2050.4 814.5 2051.7 815.8C2053.0 817.1 2054.2 820.9 2055.3 820.8C2056.4 820.7 2057.3 816.6 2058.3 815.0C2059.3 813.4 2060.3 811.4 2061.3 811.3C2062.3 811.2 2063.2 812.2 2064.2 814.2C2065.2 816.2 2066.4 819.0 2067.5 823.3C2068.6 827.6 2069.8 834.4 2070.8 840.0C2071.8 845.6 2072.5 853.1 2073.3 856.7C2074.1 860.3 2075.0 861.3 2075.8 861.7C2076.6 862.1 2077.6 862.5 2078.3 859.2C2079.1 855.9 2079.7 846.2 2080.3 841.7C2080.9 837.2 2081.4 834.3 2082.0 832.5C2082.6 830.7 2083.1 830.4 2083.7 830.8C2084.3 831.2 2085.0 831.8 2085.8 835.0C2086.6 838.2 2087.5 842.8 2088.3 850.0C2089.1 857.2 2090.0 867.2 2090.8 878.3C2091.6 889.4 2092.5 904.2 2093.3 916.7C2094.1 929.2 2095.0 941.1 2095.8 953.3C2096.6 965.5 2097.6 979.4 2098.3 990.0C2099.0 1000.6 2099.4 1010.0 2100.0 1016.7C2100.6 1023.4 2101.3 1027.5 2102.0 1030.0C2102.7 1032.5 2103.4 1031.7 2104.2 1031.7C2105.0 1031.7 2105.9 1033.3 2106.7 1030.0C2107.4 1026.7 2108.0 1020.3 2108.7 1011.7C2109.4 1003.1 2110.1 990.8 2110.8 978.3C2111.5 965.8 2112.3 949.2 2113.0 936.7C2113.7 924.2 2114.2 913.6 2115.0 903.3C2115.8 893.0 2116.5 882.8 2117.5 875.0C2118.5 867.2 2119.6 861.4 2120.8 856.7C2122.1 852.0 2123.5 849.2 2125.0 846.7C2126.5 844.2 2128.3 842.9 2130.0 842.0C2131.7 841.1 2133.3 840.9 2135.0 841.3C2136.7 841.7 2138.6 841.6 2140.0 844.2C2141.4 846.8 2142.3 851.3 2143.3 856.7C2144.3 862.1 2145.0 869.2 2145.8 876.7C2146.6 884.2 2147.5 893.9 2148.3 901.7C2149.1 909.5 2150.0 918.6 2150.8 923.3C2151.6 928.0 2152.2 929.4 2153.0 930.0C2153.8 930.6 2154.6 930.3 2155.3 926.7C2156.1 923.1 2156.7 915.5 2157.5 908.3C2158.3 901.1 2159.2 890.8 2160.0 883.3C2160.8 875.8 2161.5 869.1 2162.5 863.3C2163.5 857.5 2164.6 852.2 2165.8 848.3C2167.1 844.4 2168.5 841.8 2170.0 840.0C2171.5 838.2 2173.5 837.5 2175.0 837.5C2176.5 837.5 2177.9 838.2 2179.2 840.0C2180.4 841.8 2181.4 845.8 2182.5 848.3C2183.6 850.8 2184.7 855.0 2185.8 855.0C2186.9 855.0 2188.1 851.3 2189.2 848.3C2190.3 845.2 2191.4 839.2 2192.5 836.7C2193.6 834.2 2194.7 833.7 2195.8 833.3C2196.9 832.9 2198.1 835.3 2199.2 834.2C2200.3 833.1 2201.4 829.4 2202.5 826.7C2203.6 824.1 2204.8 819.8 2205.8 818.3C2206.8 816.8 2207.5 816.9 2208.3 817.5C2209.1 818.1 2210.0 818.5 2210.8 821.7C2211.6 824.9 2212.5 831.2 2213.3 836.7C2214.1 842.2 2215.0 850.1 2215.8 855.0C2216.6 859.9 2217.5 865.0 2218.3 865.8C2219.1 866.6 2220.0 864.9 2220.8 860.0C2221.6 855.1 2222.5 843.4 2223.3 836.7C2224.1 830.0 2224.8 824.2 2225.8 820.0C2226.8 815.8 2227.9 813.5 2229.2 811.7C2230.4 809.9 2232.2 809.9 2233.3 809.2C2234.4 808.5 2235.4 807.8 2235.8 807.5"/>
<path class="curve" stroke="#03A86B" d="M206.2 266.2C209.3 266.4 217.7 267.4 225.0 267.5C232.3 267.6 237.5 267.3 250.0 267.0C262.5 266.7 285.4 265.8 300.0 265.5C314.6 265.2 327.1 264.9 337.5 265.0C347.9 265.1 355.4 265.3 362.5 265.8C369.6 266.3 375.4 267.1 380.0 268.0C384.6 268.9 387.1 269.2 390.0 271.2C392.9 273.2 395.0 275.6 397.5 280.0C400.0 284.4 402.7 291.2 405.0 297.5C407.3 303.8 409.5 311.2 411.2 317.5C412.9 323.8 413.5 330.5 415.0 335.0C416.5 339.5 418.3 342.6 420.0 344.5C421.7 346.4 422.9 346.1 425.0 346.2C427.1 346.3 430.0 344.9 432.5 345.0C435.0 345.1 437.5 345.8 440.0 347.0C442.5 348.2 443.8 348.5 447.5 352.5C451.2 356.5 457.9 365.2 462.5 371.1C467.1 376.9 470.8 383.1 475.0 387.8C479.2 392.5 481.2 394.7 487.5 399.5C493.8 404.3 504.2 411.7 512.5 416.5C520.8 421.3 530.4 425.2 537.5 428.2C544.6 431.3 550.0 432.6 555.0 435.0C560.0 437.4 564.6 440.1 567.5 442.5C570.4 444.9 570.8 447.5 572.5 449.5C574.2 451.5 575.2 453.7 577.5 454.5C579.8 455.3 583.7 453.6 586.2 454.5C588.7 455.4 590.2 458.1 592.5 460.0C594.8 461.9 597.7 465.1 600.0 466.2C602.3 467.3 603.7 467.3 606.2 466.5C608.7 465.7 611.9 462.9 615.0 461.2C618.1 459.5 619.2 458.5 625.0 456.2C630.8 453.9 641.7 450.6 650.0 447.5C658.3 444.4 668.8 440.0 675.0 437.5C681.2 435.0 683.3 434.6 687.5 432.5C691.7 430.4 696.2 427.3 700.0 425.0C703.8 422.7 707.0 420.1 710.0 418.8C713.0 417.5 715.0 418.1 718.0 417.0C721.0 415.9 724.7 414.9 728.0 412.5C731.3 410.1 734.9 405.6 738.0 402.5C741.1 399.4 744.3 395.4 746.8 393.8C749.3 392.2 750.9 393.0 753.0 393.0C755.1 393.0 756.7 394.4 759.2 393.8C761.7 393.2 765.5 389.7 768.0 389.5C770.5 389.3 772.1 391.4 774.2 392.5C776.3 393.6 778.6 395.7 780.5 396.2C782.4 396.7 783.8 396.5 785.5 395.5C787.2 394.5 788.8 392.8 790.5 390.0C792.2 387.2 793.8 382.6 795.5 378.8C797.2 375.1 798.6 370.6 800.5 367.5C802.4 364.4 804.5 362.2 806.8 360.5C809.1 358.8 810.7 358.1 814.2 357.5C817.7 356.9 824.0 357.8 828.0 357.0C832.0 356.2 834.7 353.9 838.0 352.5C841.3 351.1 844.2 349.6 848.0 348.8C851.8 348.0 856.8 348.8 860.5 347.5C864.2 346.2 867.2 343.1 870.5 341.2C873.8 339.3 876.8 337.2 880.5 336.2C884.2 335.2 889.0 335.8 893.0 335.0C897.0 334.2 901.3 331.4 904.2 331.2C907.1 331.0 908.2 333.0 910.5 333.8C912.8 334.6 914.7 336.6 918.0 336.2C921.3 335.8 926.3 332.9 930.5 331.2C934.7 329.5 939.5 327.1 943.0 326.2C946.5 325.3 949.1 325.2 951.8 325.8C954.5 326.4 956.9 328.3 959.2 330.0C961.5 331.7 963.6 334.7 965.5 336.2C967.4 337.7 969.0 338.7 970.5 338.8C972.0 338.9 972.5 338.5 974.2 337.0C975.9 335.5 978.4 331.8 980.5 330.0C982.6 328.2 983.5 327.4 986.8 326.2C990.1 324.9 996.3 324.0 1000.5 322.5C1004.7 321.0 1008.9 318.1 1011.8 317.0C1014.7 315.9 1015.9 315.7 1018.0 316.2C1020.1 316.7 1022.1 318.7 1024.2 320.0C1026.3 321.3 1028.6 323.4 1030.5 323.8C1032.4 324.2 1033.0 323.9 1035.5 322.5C1038.0 321.1 1042.4 317.4 1045.5 315.5C1048.6 313.6 1051.9 312.1 1054.2 311.2C1056.5 310.3 1057.3 309.6 1059.2 310.0C1061.1 310.4 1063.2 312.6 1065.5 313.8C1067.8 315.1 1070.7 317.1 1073.0 317.5C1075.3 317.9 1076.9 317.2 1079.2 316.2C1081.5 315.1 1084.5 312.4 1086.8 311.2C1089.1 310.0 1090.3 309.3 1093.0 308.8C1095.7 308.3 1099.7 309.1 1103.0 308.0C1106.3 306.9 1109.9 304.0 1113.0 302.5C1116.1 301.0 1118.5 299.4 1121.8 298.8C1125.1 298.2 1129.9 299.2 1133.0 298.8C1136.1 298.4 1137.6 297.6 1140.5 296.2C1143.4 294.8 1146.8 292.2 1150.5 290.5C1154.2 288.8 1159.5 287.1 1163.0 286.2C1166.5 285.3 1169.1 285.1 1171.8 285.0C1174.5 284.9 1176.7 285.3 1179.2 285.8C1181.7 286.3 1184.5 288.1 1186.8 288.0C1189.1 287.9 1190.3 286.8 1193.0 285.5C1195.7 284.2 1199.9 281.8 1203.0 280.5C1206.1 279.2 1208.9 278.1 1211.8 277.5C1214.7 276.9 1217.8 276.8 1220.5 277.0C1223.2 277.2 1225.4 278.5 1228.0 278.8C1230.6 279.1 1232.2 279.4 1236.0 278.8C1239.8 278.2 1246.0 276.5 1251.0 275.5C1256.0 274.5 1256.0 273.4 1266.0 273.0C1276.0 272.6 1301.0 273.6 1311.0 273.0C1321.0 272.4 1321.8 269.3 1326.0 269.2C1330.2 269.1 1332.5 271.2 1336.0 272.5C1339.5 273.8 1343.0 276.7 1347.2 277.0C1351.4 277.3 1356.6 275.0 1361.0 274.5C1365.4 274.0 1369.1 274.6 1373.5 273.8C1377.9 273.0 1383.5 270.0 1387.2 269.5C1391.0 269.0 1393.3 270.3 1396.0 270.8C1398.7 271.3 1400.6 272.8 1403.5 272.5C1406.4 272.2 1409.8 270.0 1413.5 269.2C1417.2 268.4 1422.2 267.6 1426.0 267.5C1429.8 267.4 1432.7 267.8 1436.0 268.8C1439.3 269.9 1442.8 271.7 1446.0 273.8C1449.2 275.9 1452.6 281.0 1455.5 281.2C1458.4 281.4 1460.9 277.0 1463.5 275.0C1466.1 273.0 1468.5 270.2 1471.0 269.2C1473.5 268.2 1476.0 268.0 1478.5 269.2C1481.0 270.4 1483.5 274.1 1486.0 276.2C1488.5 278.3 1491.0 281.6 1493.5 281.8C1496.0 282.0 1498.1 279.3 1501.0 277.5C1503.9 275.7 1508.1 272.4 1511.0 271.2C1513.9 269.9 1516.0 269.8 1518.5 270.0C1521.0 270.2 1523.1 272.8 1526.0 272.5C1528.9 272.2 1533.3 268.6 1536.0 268.2C1538.7 267.8 1539.7 268.7 1542.2 270.0C1544.7 271.3 1547.9 273.5 1551.0 276.2C1554.1 278.9 1558.1 283.5 1561.0 286.2C1563.9 288.9 1566.4 291.8 1568.5 292.5C1570.6 293.2 1571.8 291.3 1573.5 290.5C1575.2 289.7 1576.8 287.4 1578.5 287.5C1580.2 287.6 1581.6 289.5 1583.5 291.2C1585.4 292.9 1588.1 295.6 1590.0 297.5C1591.9 299.4 1593.0 301.4 1595.0 302.5C1597.0 303.6 1599.8 303.5 1601.7 304.2C1603.7 304.9 1605.2 305.2 1606.7 306.7C1608.2 308.2 1609.5 310.2 1610.8 313.3C1612.0 316.4 1613.2 320.0 1614.2 325.0C1615.2 330.0 1615.9 335.2 1616.7 343.3C1617.5 351.4 1618.5 362.7 1619.2 373.3C1619.9 383.9 1620.2 395.6 1620.8 406.7C1621.3 417.8 1621.9 429.7 1622.5 440.0C1623.1 450.3 1623.7 460.8 1624.2 468.3C1624.8 475.8 1625.2 483.1 1625.8 485.0C1626.4 486.9 1627.3 483.3 1628.0 480.0C1628.7 476.7 1629.2 470.8 1629.7 465.0C1630.2 459.2 1630.6 449.7 1631.3 445.0C1632.0 440.3 1632.7 438.4 1633.7 436.7C1634.7 435.0 1636.5 436.4 1637.5 435.0C1638.5 433.6 1639.2 433.0 1640.0 428.3C1640.8 423.6 1641.7 415.9 1642.5 406.7C1643.3 397.5 1644.2 382.8 1645.0 373.3C1645.8 363.9 1646.6 354.7 1647.5 350.0C1648.4 345.3 1649.0 345.3 1650.3 345.0C1651.5 344.7 1653.5 348.9 1655.0 348.3C1656.5 347.8 1657.8 344.8 1659.2 341.7C1660.6 338.6 1662.1 333.6 1663.3 330.0C1664.5 326.4 1665.3 321.7 1666.3 320.0C1667.3 318.3 1668.3 318.6 1669.2 319.7C1670.1 320.8 1670.9 322.2 1671.7 326.7C1672.5 331.2 1673.4 337.5 1674.2 346.7C1675.0 355.9 1676.0 370.3 1676.7 381.7C1677.4 393.1 1677.6 402.5 1678.3 415.0C1679.0 427.5 1680.0 444.8 1680.8 456.7C1681.6 468.6 1682.5 479.6 1683.3 486.7C1684.0 493.8 1684.6 498.1 1685.3 499.2C1686.0 500.3 1686.7 499.0 1687.5 493.3C1688.3 487.6 1689.2 475.3 1690.0 465.0C1690.8 454.7 1691.7 442.5 1692.5 431.7C1693.3 420.9 1694.2 406.9 1695.0 400.0C1695.8 393.1 1696.7 391.1 1697.5 390.0C1698.3 388.9 1699.2 389.1 1700.0 393.3C1700.8 397.5 1701.7 405.8 1702.5 415.0C1703.3 424.2 1704.2 439.1 1705.0 448.3C1705.8 457.5 1706.7 467.2 1707.5 470.0C1708.3 472.8 1709.2 468.6 1710.0 465.0C1710.8 461.4 1711.7 455.2 1712.5 448.3C1713.3 441.4 1714.1 429.3 1715.0 423.3C1715.9 417.3 1717.0 413.9 1718.0 412.5C1719.0 411.1 1719.8 412.6 1720.8 415.0C1721.8 417.4 1723.1 423.5 1724.2 426.7C1725.3 429.9 1726.4 433.4 1727.5 434.2C1728.6 435.0 1729.8 434.9 1730.8 431.7C1731.8 428.5 1732.5 421.9 1733.3 415.0C1734.1 408.1 1735.0 399.2 1735.8 390.0C1736.6 380.8 1737.5 367.6 1738.3 360.0C1739.1 352.4 1739.5 346.7 1740.8 344.2C1742.0 341.7 1744.3 345.6 1745.8 345.0C1747.3 344.4 1748.6 341.4 1750.0 340.8C1751.4 340.2 1753.1 340.4 1754.2 341.7C1755.3 342.9 1755.7 344.1 1756.7 348.3C1757.7 352.5 1758.8 360.6 1760.0 366.7C1761.2 372.8 1762.5 379.4 1764.2 385.0C1765.9 390.6 1768.5 395.8 1770.0 400.0C1771.5 404.2 1772.3 405.6 1773.3 410.0C1774.3 414.4 1775.0 420.3 1775.8 426.7C1776.6 433.1 1777.3 443.3 1778.0 448.3C1778.7 453.3 1779.1 456.1 1779.7 456.7C1780.3 457.3 1781.0 456.4 1781.7 451.7C1782.5 447.0 1783.2 437.2 1784.2 428.3C1785.2 419.4 1786.2 408.9 1787.5 398.3C1788.8 387.8 1790.2 375.6 1791.7 365.0C1793.2 354.4 1795.2 342.5 1796.7 335.0C1798.2 327.5 1799.5 323.1 1800.8 320.0C1802.0 316.9 1803.1 316.7 1804.2 316.7C1805.3 316.7 1806.4 316.9 1807.5 320.0C1808.6 323.1 1809.5 327.5 1810.8 335.0C1812.0 342.5 1813.6 354.4 1815.0 365.0C1816.4 375.6 1818.0 387.2 1819.2 398.3C1820.5 409.4 1821.5 420.6 1822.5 431.7C1823.5 442.8 1824.3 455.8 1825.0 465.0C1825.7 474.2 1826.1 481.4 1826.7 486.7C1827.3 492.0 1828.0 494.5 1828.7 496.7C1829.4 498.9 1829.9 500.7 1830.8 500.0C1831.7 499.3 1833.1 494.2 1834.2 492.5C1835.3 490.8 1836.4 489.9 1837.5 490.0C1838.6 490.1 1839.5 491.4 1840.8 493.3C1842.0 495.2 1843.5 499.5 1845.0 501.7C1846.5 503.9 1848.6 506.4 1850.0 506.7C1851.4 507.0 1852.2 506.1 1853.3 503.3C1854.4 500.5 1855.5 496.4 1856.7 490.0C1858.0 483.6 1859.4 473.3 1860.8 465.0C1862.2 456.7 1863.5 447.5 1865.0 440.0C1866.5 432.5 1868.5 424.0 1870.0 420.0C1871.5 416.0 1873.0 415.8 1874.2 415.8C1875.5 415.8 1876.4 414.6 1877.5 420.0C1878.6 425.4 1879.8 438.0 1880.8 448.3C1881.8 458.6 1882.5 472.2 1883.3 481.7C1884.0 491.1 1884.7 500.6 1885.3 505.0C1885.9 509.4 1886.0 510.2 1886.7 508.3C1887.4 506.4 1888.4 501.9 1889.2 493.3C1890.0 484.7 1890.9 469.8 1891.7 456.7C1892.5 443.6 1893.2 428.9 1894.2 415.0C1895.2 401.1 1896.2 385.2 1897.5 373.3C1898.8 361.4 1900.0 351.1 1901.7 343.3C1903.4 335.5 1905.7 331.1 1907.5 326.7C1909.3 322.3 1911.2 319.0 1912.5 316.7C1913.8 314.4 1914.4 312.6 1915.4 312.9C1916.5 313.2 1917.8 314.9 1918.8 318.3C1919.8 321.7 1920.5 327.2 1921.3 333.3C1922.1 339.4 1923.1 350.0 1923.8 355.0C1924.5 360.0 1924.7 362.9 1925.4 363.3C1926.1 363.7 1927.1 361.9 1927.9 357.5C1928.7 353.1 1929.6 344.4 1930.4 336.7C1931.2 328.9 1932.1 316.3 1932.9 311.0C1933.7 305.7 1934.2 305.6 1935.0 305.0C1935.8 304.4 1936.7 305.8 1937.5 307.5C1938.3 309.2 1939.2 313.3 1940.0 315.0C1940.8 316.7 1941.5 317.8 1942.5 317.5C1943.5 317.2 1944.5 315.7 1945.8 313.3C1947.0 310.9 1948.5 306.6 1950.0 303.3C1951.5 300.0 1953.3 295.8 1955.0 293.3C1956.7 290.8 1958.5 289.1 1960.0 288.3C1961.5 287.5 1962.8 287.5 1964.2 288.3C1965.6 289.1 1966.9 290.8 1968.3 293.3C1969.7 295.8 1971.2 299.8 1972.5 303.3C1973.8 306.8 1974.7 312.5 1975.8 314.2C1976.9 315.9 1978.2 315.1 1979.2 313.3C1980.2 311.5 1980.9 305.5 1981.7 303.3C1982.5 301.1 1983.4 299.9 1984.2 300.0C1985.0 300.1 1985.7 301.7 1986.3 304.2C1986.9 306.7 1987.4 309.6 1988.0 315.0C1988.6 320.4 1989.2 328.6 1990.0 336.7C1990.8 344.8 1991.7 356.1 1992.5 363.3C1993.3 370.5 1994.2 376.9 1995.0 380.0C1995.8 383.1 1996.7 381.7 1997.5 381.7C1998.3 381.7 1999.2 378.6 2000.0 380.0C2000.8 381.4 2001.4 384.7 2002.0 390.0C2002.6 395.3 2003.2 405.9 2003.7 411.7C2004.2 417.5 2004.7 424.2 2005.3 425.0C2005.9 425.8 2006.7 423.9 2007.5 416.7C2008.3 409.5 2009.2 394.5 2010.0 381.7C2010.8 368.9 2011.7 351.7 2012.5 340.0C2013.3 328.3 2014.2 318.2 2015.0 311.7C2015.8 305.2 2016.2 302.9 2017.5 300.8C2018.8 298.7 2021.1 300.3 2022.5 299.2C2023.9 298.1 2024.7 296.3 2025.8 294.2C2026.9 292.1 2027.8 288.1 2029.2 286.7C2030.6 285.3 2032.8 285.9 2034.2 285.8C2035.6 285.7 2036.1 286.6 2037.5 285.8C2038.9 285.0 2041.0 282.0 2042.5 280.8C2044.0 279.6 2045.2 278.6 2046.7 278.7C2048.2 278.8 2050.3 280.1 2051.7 281.7C2053.1 283.3 2053.9 286.6 2055.0 288.3C2056.1 290.0 2057.2 291.7 2058.3 291.7C2059.4 291.7 2060.6 289.6 2061.7 288.3C2062.8 287.1 2063.9 284.2 2065.0 284.2C2066.1 284.2 2067.3 284.6 2068.3 288.3C2069.3 292.1 2070.0 298.1 2070.8 306.7C2071.6 315.3 2072.5 328.9 2073.3 340.0C2074.1 351.1 2075.1 364.4 2075.8 373.3C2076.5 382.2 2076.9 389.1 2077.5 393.3C2078.1 397.5 2078.5 400.2 2079.2 398.3C2079.9 396.4 2080.9 389.2 2081.7 381.7C2082.4 374.2 2083.1 359.3 2083.7 353.3C2084.3 347.3 2084.7 346.4 2085.3 345.8C2085.9 345.2 2086.7 346.0 2087.5 350.0C2088.3 354.0 2089.2 361.9 2090.0 370.0C2090.8 378.1 2091.7 388.0 2092.5 398.3C2093.3 408.6 2094.2 421.1 2095.0 431.7C2095.8 442.3 2096.7 452.8 2097.5 461.7C2098.3 470.6 2099.2 479.9 2100.0 485.0C2100.8 490.1 2101.4 492.2 2102.2 492.5C2103.0 492.8 2104.1 492.7 2105.0 486.7C2105.9 480.7 2106.7 468.6 2107.5 456.7C2108.3 444.8 2109.2 428.9 2110.0 415.0C2110.8 401.1 2111.7 385.8 2112.5 373.3C2113.3 360.8 2114.0 349.2 2115.0 340.0C2116.0 330.8 2117.2 323.0 2118.3 318.3C2119.4 313.6 2120.6 313.1 2121.7 311.7C2122.8 310.3 2123.8 309.9 2125.0 310.0C2126.2 310.1 2127.8 310.3 2129.2 312.5C2130.6 314.7 2132.1 318.2 2133.3 323.3C2134.6 328.4 2135.6 336.1 2136.7 343.3C2137.8 350.5 2138.9 359.8 2140.0 366.7C2141.1 373.6 2142.4 381.2 2143.3 385.0C2144.2 388.8 2144.5 389.2 2145.3 389.2C2146.1 389.2 2147.4 387.9 2148.3 385.0C2149.2 382.1 2150.0 374.5 2150.8 371.7C2151.6 368.9 2152.5 368.9 2153.3 368.3C2154.1 367.7 2155.0 369.7 2155.8 368.3C2156.6 366.9 2157.5 364.2 2158.3 360.0C2159.1 355.8 2159.8 348.6 2160.8 343.3C2161.8 338.0 2162.9 332.2 2164.2 328.3C2165.4 324.4 2166.8 322.1 2168.3 320.0C2169.8 317.9 2171.4 316.8 2173.3 315.8C2175.2 314.8 2177.8 315.2 2180.0 314.2C2182.2 313.2 2184.5 311.5 2186.7 310.0C2188.9 308.5 2191.6 305.4 2193.3 305.0C2195.0 304.6 2195.4 306.9 2196.7 307.5C2197.9 308.1 2199.3 309.3 2200.8 308.3C2202.3 307.3 2204.3 303.6 2205.8 301.7C2207.3 299.8 2208.8 297.5 2210.0 296.7C2211.2 295.9 2212.2 295.9 2213.3 296.7C2214.4 297.5 2215.6 298.4 2216.7 301.7C2217.8 305.0 2219.0 310.9 2220.0 316.7C2221.0 322.5 2221.7 330.6 2222.5 336.7C2223.3 342.8 2224.2 351.6 2225.0 353.3C2225.8 355.0 2226.7 351.1 2227.5 346.7C2228.3 342.3 2229.2 333.4 2230.0 326.7C2230.8 320.0 2231.7 312.0 2232.5 306.7C2233.3 301.4 2234.6 296.9 2235.0 295.0"/>
</g>
<line class="dash" x1="2158" y1="41.4" x2="2158" y2="1675"/>
<line x1="205.3" y1="1671" x2="205.3" y2="1703.3" stroke="#000" stroke-width="4"/>
<text class="tick" x="205.0" y="1773.1">4000</text>
<line x1="502.2" y1="1671" x2="502.2" y2="1703.3" stroke="#000" stroke-width="4"/>
<text class="tick" x="501.9" y="1773.1">3500</text>
<line x1="799.0" y1="1671" x2="799.0" y2="1703.3" stroke="#000" stroke-width="4"/>
<text class="tick" x="798.7" y="1773.1">3000</text>
<line x1="1095.9" y1="1671" x2="1095.9" y2="1703.3" stroke="#000" stroke-width="4"/>
<text class="tick" x="1095.6" y="1773.1">2500</text>
<line x1="1392.7" y1="1671" x2="1392.7" y2="1703.3" stroke="#000" stroke-width="4"/>
<text class="tick" x="1392.4" y="1773.1">2000</text>
<line x1="1689.5" y1="1671" x2="1689.5" y2="1703.3" stroke="#000" stroke-width="4"/>
<text class="tick" x="1689.2" y="1773.1">1500</text>
<line x1="1986.4" y1="1671" x2="1986.4" y2="1703.3" stroke="#000" stroke-width="4"/>
<text class="tick" x="1986.1" y="1773.1">1000</text>
<line x1="353.7" y1="1671" x2="353.7" y2="1687.9" stroke="#000" stroke-width="4"/>
<line x1="650.6" y1="1671" x2="650.6" y2="1687.9" stroke="#000" stroke-width="4"/>
<line x1="947.4" y1="1671" x2="947.4" y2="1687.9" stroke="#000" stroke-width="4"/>
<line x1="1244.3" y1="1671" x2="1244.3" y2="1687.9" stroke="#000" stroke-width="4"/>
<line x1="1541.1" y1="1671" x2="1541.1" y2="1687.9" stroke="#000" stroke-width="4"/>
<line x1="1838.0" y1="1671" x2="1838.0" y2="1687.9" stroke="#000" stroke-width="4"/>
<line x1="2134.8" y1="1671" x2="2134.8" y2="1687.9" stroke="#000" stroke-width="4"/>
<text class="lab" id="lab_TH" transform="translate(219.8 239.4) scale(1.04 1)" font-size="50.00">THPP powder</text>
<text class="lab" id="lab_Zn" transform="translate(220.4 516.2) scale(1.04 1)" font-size="50.10">Zn-THPP</text>
<text class="lab" id="lab_Ni" transform="translate(220.8 781.4) scale(1.04 1)" font-size="50.10">Ni-THPP</text>
<text class="lab" id="lab_Cu" transform="translate(217.1 1055.6) scale(1.04 1)" font-size="52.31">Cu-THPP</text>
<text class="lab" id="lab_Co" transform="translate(221.1 1315.2) scale(1.04 1)" font-size="49.62">Co-THPP</text>
<text class="axl" id="xl" x="934.6" y="1908.8" font-size="61.1">Wavenumber (cm<tspan x="1439.4" y="1888.7" font-size="45" font-weight="normal">−</tspan><tspan x="1462.5" y="1884.5" font-size="44">1</tspan><tspan x="1487.5" y="1908.8" font-size="61.4" font-weight="normal">)</tspan></text>
<text class="axl" id="yl" font-size="70.15" transform="translate(74.5 1130) rotate(-90)">Trasmittance (a.u.)</text>
</svg>
</body></html>
